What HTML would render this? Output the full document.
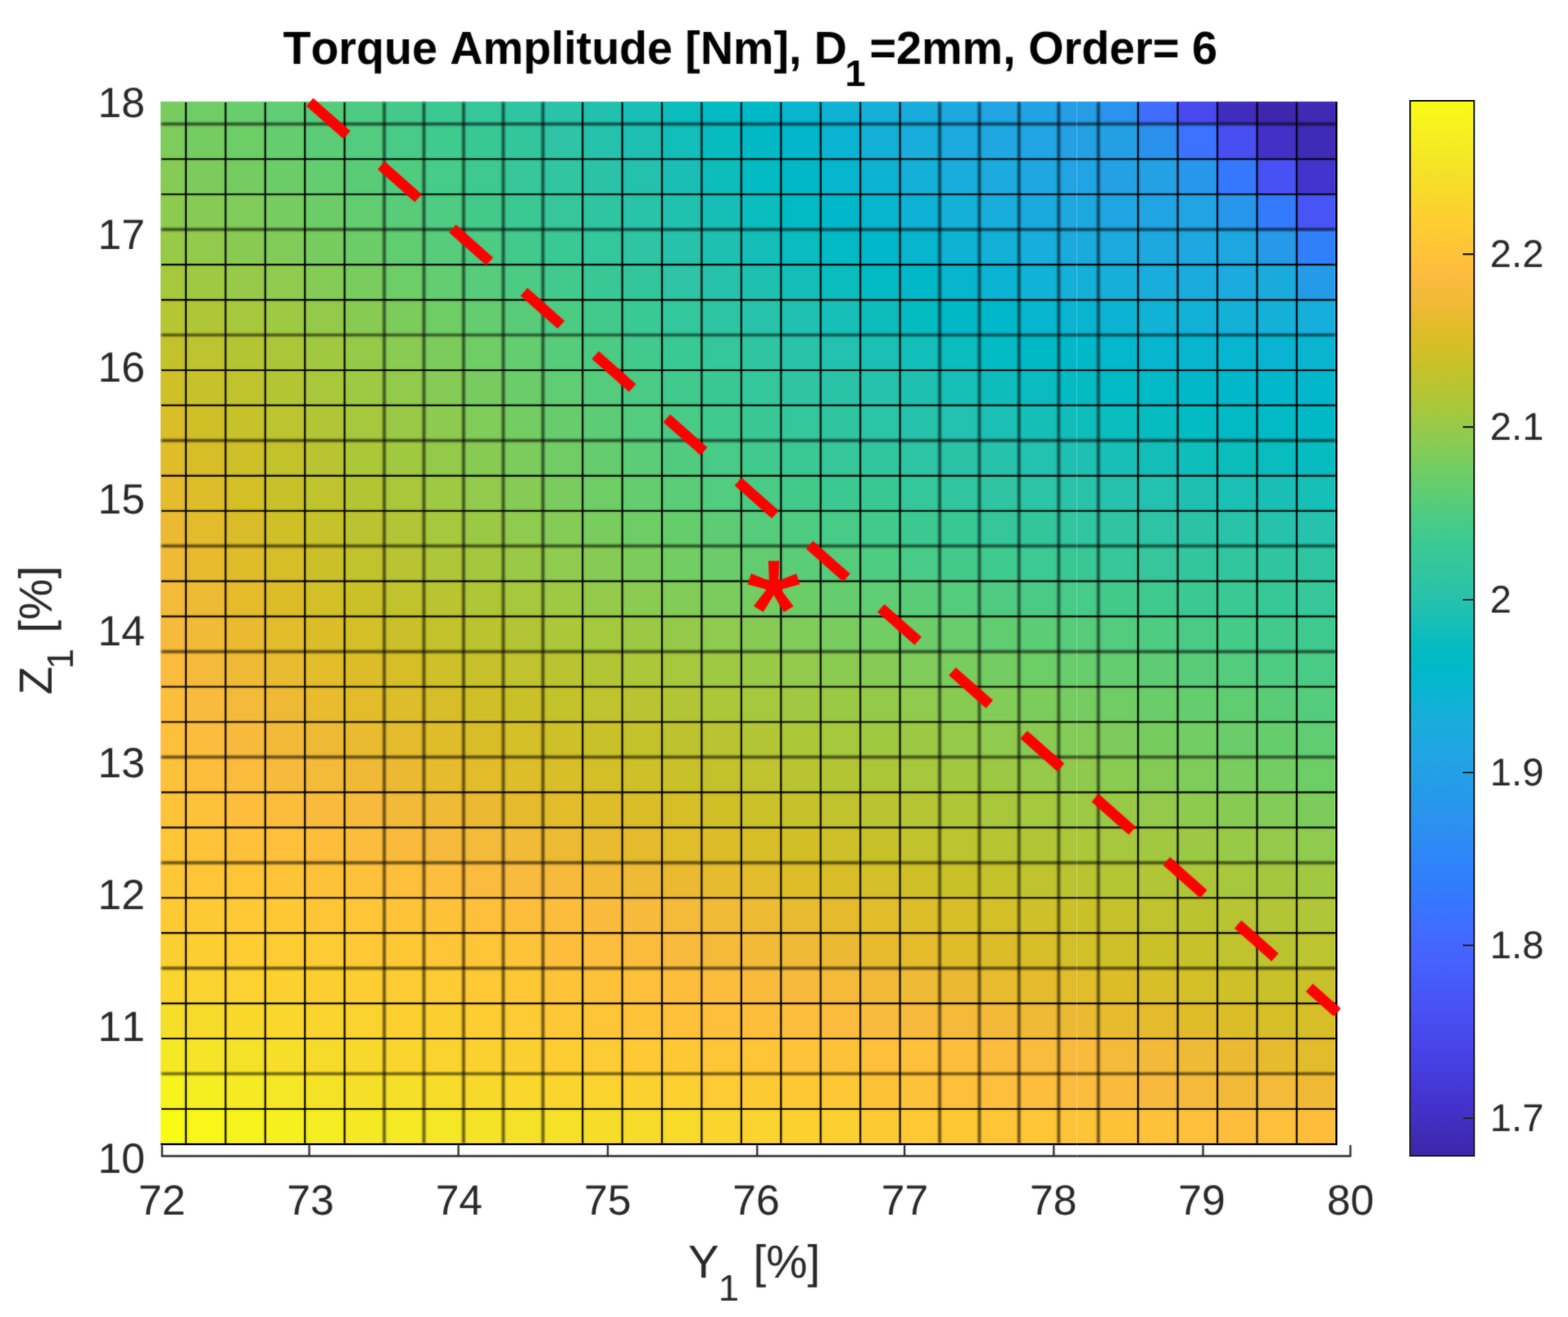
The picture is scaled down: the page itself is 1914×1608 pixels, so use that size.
<!DOCTYPE html>
<html lang="en"><head><meta charset="utf-8"><title>Torque Amplitude</title>
<style>html,body{margin:0;padding:0;background:#fff}body{width:1914px;height:1608px;overflow:hidden}svg{display:block}text{font-family:"Liberation Sans",Arial,Helvetica,sans-serif;font-kerning:none;text-rendering:geometricPrecision}</style></head><body>
<svg xmlns="http://www.w3.org/2000/svg" width="1914" height="1608" viewBox="0 0 1914 1608">
<rect width="1914" height="1608" fill="#fff"/>
<defs><linearGradient id="cb" x1="0" y1="0" x2="0" y2="1"><stop offset="0%" stop-color="#f9fb15"/><stop offset="1.59%" stop-color="#f7f51b"/><stop offset="3.17%" stop-color="#f6ef20"/><stop offset="4.76%" stop-color="#f5e924"/><stop offset="6.35%" stop-color="#f5e327"/><stop offset="7.94%" stop-color="#f7dc2a"/><stop offset="9.52%" stop-color="#fad62d"/><stop offset="11.11%" stop-color="#fccf30"/><stop offset="12.7%" stop-color="#fec934"/><stop offset="14.29%" stop-color="#fec338"/><stop offset="15.87%" stop-color="#febe3c"/><stop offset="17.46%" stop-color="#f8ba3d"/><stop offset="19.05%" stop-color="#f0ba36"/><stop offset="20.63%" stop-color="#e6bb2d"/><stop offset="22.22%" stop-color="#dcbd29"/><stop offset="23.81%" stop-color="#d1bf27"/><stop offset="25.4%" stop-color="#c5c22a"/><stop offset="26.98%" stop-color="#b9c431"/><stop offset="28.57%" stop-color="#abc739"/><stop offset="30.16%" stop-color="#9dc943"/><stop offset="31.75%" stop-color="#8fcb4e"/><stop offset="33.33%" stop-color="#81cc59"/><stop offset="34.92%" stop-color="#72cd64"/><stop offset="36.51%" stop-color="#64cd6f"/><stop offset="38.1%" stop-color="#57cc7a"/><stop offset="39.68%" stop-color="#4acb84"/><stop offset="41.27%" stop-color="#3fca8e"/><stop offset="42.86%" stop-color="#37c897"/><stop offset="44.44%" stop-color="#31c69f"/><stop offset="46.03%" stop-color="#2cc4a7"/><stop offset="47.62%" stop-color="#24c1ae"/><stop offset="49.21%" stop-color="#19bfb6"/><stop offset="50.79%" stop-color="#0bbdbd"/><stop offset="52.38%" stop-color="#02bac3"/><stop offset="53.97%" stop-color="#01b8ca"/><stop offset="55.56%" stop-color="#08b5d0"/><stop offset="57.14%" stop-color="#12b1d6"/><stop offset="58.73%" stop-color="#18addb"/><stop offset="60.32%" stop-color="#1ca9df"/><stop offset="61.9%" stop-color="#20a5e3"/><stop offset="63.49%" stop-color="#23a0e5"/><stop offset="65.08%" stop-color="#259be8"/><stop offset="66.67%" stop-color="#2797eb"/><stop offset="68.25%" stop-color="#2b91ef"/><stop offset="69.84%" stop-color="#2d8cf3"/><stop offset="71.43%" stop-color="#2e87f7"/><stop offset="73.02%" stop-color="#2f81fa"/><stop offset="74.6%" stop-color="#327cfc"/><stop offset="76.19%" stop-color="#3875fe"/><stop offset="77.78%" stop-color="#3e6fff"/><stop offset="79.37%" stop-color="#4269fe"/><stop offset="80.95%" stop-color="#4563fd"/><stop offset="82.54%" stop-color="#465efb"/><stop offset="84.13%" stop-color="#4758f8"/><stop offset="85.71%" stop-color="#4852f4"/><stop offset="87.3%" stop-color="#484df0"/><stop offset="88.89%" stop-color="#4747eb"/><stop offset="90.48%" stop-color="#4741e5"/><stop offset="92.06%" stop-color="#463cde"/><stop offset="93.65%" stop-color="#4537d5"/><stop offset="95.24%" stop-color="#4332cb"/><stop offset="96.83%" stop-color="#422ec0"/><stop offset="98.41%" stop-color="#402ab4"/><stop offset="100%" stop-color="#3e26a8"/></linearGradient><filter id="soft" x="0" y="0" width="1914" height="1608" filterUnits="userSpaceOnUse" color-interpolation-filters="sRGB"><feGaussianBlur stdDeviation="0.9" result="b"/><feComposite in="SourceGraphic" in2="b" operator="arithmetic" k1="0" k2="0.5" k3="0.5" k4="0"/></filter><filter id="soft2" x="0" y="0" width="1914" height="1608" filterUnits="userSpaceOnUse" color-interpolation-filters="sRGB"><feGaussianBlur stdDeviation="1.5"/></filter></defs>
<g filter="url(#soft)">
<g shape-rendering="crispEdges">
<rect x="196.2" y="124.3" width="31.3" height="27.6" fill="#78cc5f"/>
<rect x="226.3" y="124.3" width="49.63" height="27.6" fill="#70cd65"/>
<rect x="274.73" y="124.3" width="49.63" height="27.6" fill="#68cd6c"/>
<rect x="323.16" y="124.3" width="49.63" height="27.6" fill="#5fcd73"/>
<rect x="371.58" y="124.3" width="49.63" height="27.6" fill="#56cc7b"/>
<rect x="420.01" y="124.3" width="49.63" height="27.6" fill="#4ccb83"/>
<rect x="468.44" y="124.3" width="49.63" height="27.6" fill="#43ca8b"/>
<rect x="516.87" y="124.3" width="49.63" height="27.6" fill="#3bc993"/>
<rect x="565.29" y="124.3" width="49.63" height="27.6" fill="#35c79a"/>
<rect x="613.72" y="124.3" width="49.63" height="27.6" fill="#30c5a2"/>
<rect x="662.15" y="124.3" width="49.63" height="27.6" fill="#2ac3a9"/>
<rect x="710.58" y="124.3" width="49.63" height="27.6" fill="#22c1af"/>
<rect x="759" y="124.3" width="49.63" height="27.6" fill="#18bfb6"/>
<rect x="807.43" y="124.3" width="49.63" height="27.6" fill="#0bbdbd"/>
<rect x="855.86" y="124.3" width="49.63" height="27.6" fill="#02bbc3"/>
<rect x="904.29" y="124.3" width="49.63" height="27.6" fill="#01b8c9"/>
<rect x="952.71" y="124.3" width="49.63" height="27.6" fill="#07b5cf"/>
<rect x="1001.14" y="124.3" width="49.63" height="27.6" fill="#0fb2d5"/>
<rect x="1049.57" y="124.3" width="49.63" height="27.6" fill="#16afda"/>
<rect x="1098" y="124.3" width="49.63" height="27.6" fill="#1aabdd"/>
<rect x="1146.42" y="124.3" width="49.63" height="27.6" fill="#1ea8e0"/>
<rect x="1194.85" y="124.3" width="49.63" height="27.6" fill="#20a4e3"/>
<rect x="1243.28" y="124.3" width="49.63" height="27.6" fill="#22a1e4"/>
<rect x="1291.71" y="124.3" width="49.63" height="27.6" fill="#259de7"/>
<rect x="1340.13" y="124.3" width="49.63" height="27.6" fill="#2a93ed"/>
<rect x="1388.56" y="124.3" width="49.63" height="27.6" fill="#3f6eff"/>
<rect x="1436.99" y="124.3" width="49.63" height="27.6" fill="#484aee"/>
<rect x="1485.42" y="124.3" width="49.63" height="27.6" fill="#412dbc"/>
<rect x="1533.84" y="124.3" width="49.63" height="27.6" fill="#3e27ac"/>
<rect x="1582.27" y="124.3" width="49.03" height="27.6" fill="#402ab3"/>
<rect x="196.2" y="150.7" width="31.3" height="44.15" fill="#7dcc5c"/>
<rect x="226.3" y="150.7" width="49.63" height="44.15" fill="#75cc61"/>
<rect x="274.73" y="150.7" width="49.63" height="44.15" fill="#6dcd67"/>
<rect x="323.16" y="150.7" width="49.63" height="44.15" fill="#65cd6e"/>
<rect x="371.58" y="150.7" width="49.63" height="44.15" fill="#5ccc76"/>
<rect x="420.01" y="150.7" width="49.63" height="44.15" fill="#52cc7e"/>
<rect x="468.44" y="150.7" width="49.63" height="44.15" fill="#48cb86"/>
<rect x="516.87" y="150.7" width="49.63" height="44.15" fill="#3fca8e"/>
<rect x="565.29" y="150.7" width="49.63" height="44.15" fill="#38c896"/>
<rect x="613.72" y="150.7" width="49.63" height="44.15" fill="#33c69d"/>
<rect x="662.15" y="150.7" width="49.63" height="44.15" fill="#2ec4a5"/>
<rect x="710.58" y="150.7" width="49.63" height="44.15" fill="#27c2ac"/>
<rect x="759" y="150.7" width="49.63" height="44.15" fill="#1dc0b3"/>
<rect x="807.43" y="150.7" width="49.63" height="44.15" fill="#11beb9"/>
<rect x="855.86" y="150.7" width="49.63" height="44.15" fill="#06bcc0"/>
<rect x="904.29" y="150.7" width="49.63" height="44.15" fill="#01b9c6"/>
<rect x="952.71" y="150.7" width="49.63" height="44.15" fill="#03b6cc"/>
<rect x="1001.14" y="150.7" width="49.63" height="44.15" fill="#0bb4d2"/>
<rect x="1049.57" y="150.7" width="49.63" height="44.15" fill="#13b0d7"/>
<rect x="1098" y="150.7" width="49.63" height="44.15" fill="#18addb"/>
<rect x="1146.42" y="150.7" width="49.63" height="44.15" fill="#1caadf"/>
<rect x="1194.85" y="150.7" width="49.63" height="44.15" fill="#1ea7e1"/>
<rect x="1243.28" y="150.7" width="49.63" height="44.15" fill="#21a4e3"/>
<rect x="1291.71" y="150.7" width="49.63" height="44.15" fill="#23a1e4"/>
<rect x="1340.13" y="150.7" width="49.63" height="44.15" fill="#23a0e5"/>
<rect x="1388.56" y="150.7" width="49.63" height="44.15" fill="#2b91ef"/>
<rect x="1436.99" y="150.7" width="49.63" height="44.15" fill="#3b72ff"/>
<rect x="1485.42" y="150.7" width="49.63" height="44.15" fill="#484ff2"/>
<rect x="1533.84" y="150.7" width="49.63" height="44.15" fill="#4331c7"/>
<rect x="1582.27" y="150.7" width="49.03" height="44.15" fill="#402bb6"/>
<rect x="196.2" y="193.65" width="31.3" height="44.15" fill="#84cc56"/>
<rect x="226.3" y="193.65" width="49.63" height="44.15" fill="#7dcc5b"/>
<rect x="274.73" y="193.65" width="49.63" height="44.15" fill="#75cc61"/>
<rect x="323.16" y="193.65" width="49.63" height="44.15" fill="#6ccd68"/>
<rect x="371.58" y="193.65" width="49.63" height="44.15" fill="#63cd70"/>
<rect x="420.01" y="193.65" width="49.63" height="44.15" fill="#5acc78"/>
<rect x="468.44" y="193.65" width="49.63" height="44.15" fill="#50cc80"/>
<rect x="516.87" y="193.65" width="49.63" height="44.15" fill="#46cb88"/>
<rect x="565.29" y="193.65" width="49.63" height="44.15" fill="#3dc990"/>
<rect x="613.72" y="193.65" width="49.63" height="44.15" fill="#36c898"/>
<rect x="662.15" y="193.65" width="49.63" height="44.15" fill="#31c6a0"/>
<rect x="710.58" y="193.65" width="49.63" height="44.15" fill="#2bc3a7"/>
<rect x="759" y="193.65" width="49.63" height="44.15" fill="#24c1ae"/>
<rect x="807.43" y="193.65" width="49.63" height="44.15" fill="#19bfb5"/>
<rect x="855.86" y="193.65" width="49.63" height="44.15" fill="#0cbdbc"/>
<rect x="904.29" y="193.65" width="49.63" height="44.15" fill="#03bbc2"/>
<rect x="952.71" y="193.65" width="49.63" height="44.15" fill="#01b8c8"/>
<rect x="1001.14" y="193.65" width="49.63" height="44.15" fill="#06b6ce"/>
<rect x="1049.57" y="193.65" width="49.63" height="44.15" fill="#0db3d3"/>
<rect x="1098" y="193.65" width="49.63" height="44.15" fill="#14b0d8"/>
<rect x="1146.42" y="193.65" width="49.63" height="44.15" fill="#19addc"/>
<rect x="1194.85" y="193.65" width="49.63" height="44.15" fill="#1caadf"/>
<rect x="1243.28" y="193.65" width="49.63" height="44.15" fill="#1ea7e1"/>
<rect x="1291.71" y="193.65" width="49.63" height="44.15" fill="#20a4e3"/>
<rect x="1340.13" y="193.65" width="49.63" height="44.15" fill="#22a2e4"/>
<rect x="1388.56" y="193.65" width="49.63" height="44.15" fill="#23a1e4"/>
<rect x="1436.99" y="193.65" width="49.63" height="44.15" fill="#2797eb"/>
<rect x="1485.42" y="193.65" width="49.63" height="44.15" fill="#3678fd"/>
<rect x="1533.84" y="193.65" width="49.63" height="44.15" fill="#4852f4"/>
<rect x="1582.27" y="193.65" width="49.03" height="44.15" fill="#4434ce"/>
<rect x="196.2" y="236.6" width="31.3" height="44.15" fill="#8dcb4f"/>
<rect x="226.3" y="236.6" width="49.63" height="44.15" fill="#87cb54"/>
<rect x="274.73" y="236.6" width="49.63" height="44.15" fill="#7fcc5a"/>
<rect x="323.16" y="236.6" width="49.63" height="44.15" fill="#76cc61"/>
<rect x="371.58" y="236.6" width="49.63" height="44.15" fill="#6ccd68"/>
<rect x="420.01" y="236.6" width="49.63" height="44.15" fill="#62cd70"/>
<rect x="468.44" y="236.6" width="49.63" height="44.15" fill="#58cc79"/>
<rect x="516.87" y="236.6" width="49.63" height="44.15" fill="#4dcc82"/>
<rect x="565.29" y="236.6" width="49.63" height="44.15" fill="#43ca8a"/>
<rect x="613.72" y="236.6" width="49.63" height="44.15" fill="#3bc993"/>
<rect x="662.15" y="236.6" width="49.63" height="44.15" fill="#35c79b"/>
<rect x="710.58" y="236.6" width="49.63" height="44.15" fill="#2fc5a2"/>
<rect x="759" y="236.6" width="49.63" height="44.15" fill="#29c3aa"/>
<rect x="807.43" y="236.6" width="49.63" height="44.15" fill="#21c1b0"/>
<rect x="855.86" y="236.6" width="49.63" height="44.15" fill="#15bfb7"/>
<rect x="904.29" y="236.6" width="49.63" height="44.15" fill="#09bdbe"/>
<rect x="952.71" y="236.6" width="49.63" height="44.15" fill="#02bac4"/>
<rect x="1001.14" y="236.6" width="49.63" height="44.15" fill="#01b8ca"/>
<rect x="1049.57" y="236.6" width="49.63" height="44.15" fill="#07b5cf"/>
<rect x="1098" y="236.6" width="49.63" height="44.15" fill="#0eb2d4"/>
<rect x="1146.42" y="236.6" width="49.63" height="44.15" fill="#14b0d8"/>
<rect x="1194.85" y="236.6" width="49.63" height="44.15" fill="#19addc"/>
<rect x="1243.28" y="236.6" width="49.63" height="44.15" fill="#1baade"/>
<rect x="1291.71" y="236.6" width="49.63" height="44.15" fill="#1ea8e0"/>
<rect x="1340.13" y="236.6" width="49.63" height="44.15" fill="#1fa6e2"/>
<rect x="1388.56" y="236.6" width="49.63" height="44.15" fill="#20a4e3"/>
<rect x="1436.99" y="236.6" width="49.63" height="44.15" fill="#20a4e3"/>
<rect x="1485.42" y="236.6" width="49.63" height="44.15" fill="#2797eb"/>
<rect x="1533.84" y="236.6" width="49.63" height="44.15" fill="#337afd"/>
<rect x="1582.27" y="236.6" width="49.03" height="44.15" fill="#4755f6"/>
<rect x="196.2" y="279.56" width="31.3" height="44.15" fill="#97ca47"/>
<rect x="226.3" y="279.56" width="49.63" height="44.15" fill="#91ca4c"/>
<rect x="274.73" y="279.56" width="49.63" height="44.15" fill="#89cb52"/>
<rect x="323.16" y="279.56" width="49.63" height="44.15" fill="#81cc59"/>
<rect x="371.58" y="279.56" width="49.63" height="44.15" fill="#77cc60"/>
<rect x="420.01" y="279.56" width="49.63" height="44.15" fill="#6ccd68"/>
<rect x="468.44" y="279.56" width="49.63" height="44.15" fill="#61cd71"/>
<rect x="516.87" y="279.56" width="49.63" height="44.15" fill="#57cc7a"/>
<rect x="565.29" y="279.56" width="49.63" height="44.15" fill="#4ccb83"/>
<rect x="613.72" y="279.56" width="49.63" height="44.15" fill="#41ca8c"/>
<rect x="662.15" y="279.56" width="49.63" height="44.15" fill="#39c994"/>
<rect x="710.58" y="279.56" width="49.63" height="44.15" fill="#33c79d"/>
<rect x="759" y="279.56" width="49.63" height="44.15" fill="#2ec4a4"/>
<rect x="807.43" y="279.56" width="49.63" height="44.15" fill="#27c2ab"/>
<rect x="855.86" y="279.56" width="49.63" height="44.15" fill="#1ec0b2"/>
<rect x="904.29" y="279.56" width="49.63" height="44.15" fill="#13beb9"/>
<rect x="952.71" y="279.56" width="49.63" height="44.15" fill="#08bcbf"/>
<rect x="1001.14" y="279.56" width="49.63" height="44.15" fill="#02bac5"/>
<rect x="1049.57" y="279.56" width="49.63" height="44.15" fill="#01b8ca"/>
<rect x="1098" y="279.56" width="49.63" height="44.15" fill="#07b5cf"/>
<rect x="1146.42" y="279.56" width="49.63" height="44.15" fill="#0eb3d4"/>
<rect x="1194.85" y="279.56" width="49.63" height="44.15" fill="#13b0d8"/>
<rect x="1243.28" y="279.56" width="49.63" height="44.15" fill="#18aedb"/>
<rect x="1291.71" y="279.56" width="49.63" height="44.15" fill="#1aabdd"/>
<rect x="1340.13" y="279.56" width="49.63" height="44.15" fill="#1caadf"/>
<rect x="1388.56" y="279.56" width="49.63" height="44.15" fill="#1da8e0"/>
<rect x="1436.99" y="279.56" width="49.63" height="44.15" fill="#1ea7e1"/>
<rect x="1485.42" y="279.56" width="49.63" height="44.15" fill="#1ea6e1"/>
<rect x="1533.84" y="279.56" width="49.63" height="44.15" fill="#2699e9"/>
<rect x="1582.27" y="279.56" width="49.03" height="44.15" fill="#3080fb"/>
<rect x="196.2" y="322.51" width="31.3" height="44.15" fill="#a5c83d"/>
<rect x="226.3" y="322.51" width="49.63" height="44.15" fill="#9fc942"/>
<rect x="274.73" y="322.51" width="49.63" height="44.15" fill="#97ca48"/>
<rect x="323.16" y="322.51" width="49.63" height="44.15" fill="#8ecb4e"/>
<rect x="371.58" y="322.51" width="49.63" height="44.15" fill="#84cc56"/>
<rect x="420.01" y="322.51" width="49.63" height="44.15" fill="#79cc5e"/>
<rect x="468.44" y="322.51" width="49.63" height="44.15" fill="#6dcd67"/>
<rect x="516.87" y="322.51" width="49.63" height="44.15" fill="#62cd71"/>
<rect x="565.29" y="322.51" width="49.63" height="44.15" fill="#57cc7a"/>
<rect x="613.72" y="322.51" width="49.63" height="44.15" fill="#4bcb83"/>
<rect x="662.15" y="322.51" width="49.63" height="44.15" fill="#41ca8c"/>
<rect x="710.58" y="322.51" width="49.63" height="44.15" fill="#39c895"/>
<rect x="759" y="322.51" width="49.63" height="44.15" fill="#33c69d"/>
<rect x="807.43" y="322.51" width="49.63" height="44.15" fill="#2ec4a5"/>
<rect x="855.86" y="322.51" width="49.63" height="44.15" fill="#27c2ac"/>
<rect x="904.29" y="322.51" width="49.63" height="44.15" fill="#1ec0b2"/>
<rect x="952.71" y="322.51" width="49.63" height="44.15" fill="#13beb8"/>
<rect x="1001.14" y="322.51" width="49.63" height="44.15" fill="#09bcbe"/>
<rect x="1049.57" y="322.51" width="49.63" height="44.15" fill="#02bac4"/>
<rect x="1098" y="322.51" width="49.63" height="44.15" fill="#01b8c9"/>
<rect x="1146.42" y="322.51" width="49.63" height="44.15" fill="#05b6ce"/>
<rect x="1194.85" y="322.51" width="49.63" height="44.15" fill="#0ab4d2"/>
<rect x="1243.28" y="322.51" width="49.63" height="44.15" fill="#10b2d5"/>
<rect x="1291.71" y="322.51" width="49.63" height="44.15" fill="#14b0d8"/>
<rect x="1340.13" y="322.51" width="49.63" height="44.15" fill="#17aeda"/>
<rect x="1388.56" y="322.51" width="49.63" height="44.15" fill="#19addc"/>
<rect x="1436.99" y="322.51" width="49.63" height="44.15" fill="#1aacdd"/>
<rect x="1485.42" y="322.51" width="49.63" height="44.15" fill="#1babde"/>
<rect x="1533.84" y="322.51" width="49.63" height="44.15" fill="#1aabdd"/>
<rect x="1582.27" y="322.51" width="49.03" height="44.15" fill="#259be8"/>
<rect x="196.2" y="365.46" width="31.3" height="44.15" fill="#b6c532"/>
<rect x="226.3" y="365.46" width="49.63" height="44.15" fill="#afc637"/>
<rect x="274.73" y="365.46" width="49.63" height="44.15" fill="#a7c73c"/>
<rect x="323.16" y="365.46" width="49.63" height="44.15" fill="#9ec943"/>
<rect x="371.58" y="365.46" width="49.63" height="44.15" fill="#93ca4a"/>
<rect x="420.01" y="365.46" width="49.63" height="44.15" fill="#88cb53"/>
<rect x="468.44" y="365.46" width="49.63" height="44.15" fill="#7ccc5c"/>
<rect x="516.87" y="365.46" width="49.63" height="44.15" fill="#6fcd65"/>
<rect x="565.29" y="365.46" width="49.63" height="44.15" fill="#63cd6f"/>
<rect x="613.72" y="365.46" width="49.63" height="44.15" fill="#58cc79"/>
<rect x="662.15" y="365.46" width="49.63" height="44.15" fill="#4ccb83"/>
<rect x="710.58" y="365.46" width="49.63" height="44.15" fill="#41ca8c"/>
<rect x="759" y="365.46" width="49.63" height="44.15" fill="#39c995"/>
<rect x="807.43" y="365.46" width="49.63" height="44.15" fill="#33c79d"/>
<rect x="855.86" y="365.46" width="49.63" height="44.15" fill="#2ec5a4"/>
<rect x="904.29" y="365.46" width="49.63" height="44.15" fill="#28c3ab"/>
<rect x="952.71" y="365.46" width="49.63" height="44.15" fill="#20c1b1"/>
<rect x="1001.14" y="365.46" width="49.63" height="44.15" fill="#16bfb7"/>
<rect x="1049.57" y="365.46" width="49.63" height="44.15" fill="#0cbdbc"/>
<rect x="1098" y="365.46" width="49.63" height="44.15" fill="#04bbc1"/>
<rect x="1146.42" y="365.46" width="49.63" height="44.15" fill="#01b9c6"/>
<rect x="1194.85" y="365.46" width="49.63" height="44.15" fill="#01b8ca"/>
<rect x="1243.28" y="365.46" width="49.63" height="44.15" fill="#05b6ce"/>
<rect x="1291.71" y="365.46" width="49.63" height="44.15" fill="#09b4d1"/>
<rect x="1340.13" y="365.46" width="49.63" height="44.15" fill="#0db3d3"/>
<rect x="1388.56" y="365.46" width="49.63" height="44.15" fill="#10b2d5"/>
<rect x="1436.99" y="365.46" width="49.63" height="44.15" fill="#12b1d7"/>
<rect x="1485.42" y="365.46" width="49.63" height="44.15" fill="#13b0d7"/>
<rect x="1533.84" y="365.46" width="49.63" height="44.15" fill="#14b0d8"/>
<rect x="1582.27" y="365.46" width="49.03" height="44.15" fill="#16aeda"/>
<rect x="196.2" y="408.41" width="31.3" height="44.15" fill="#c4c22b"/>
<rect x="226.3" y="408.41" width="49.63" height="44.15" fill="#bdc42f"/>
<rect x="274.73" y="408.41" width="49.63" height="44.15" fill="#b4c534"/>
<rect x="323.16" y="408.41" width="49.63" height="44.15" fill="#abc739"/>
<rect x="371.58" y="408.41" width="49.63" height="44.15" fill="#a0c841"/>
<rect x="420.01" y="408.41" width="49.63" height="44.15" fill="#95ca49"/>
<rect x="468.44" y="408.41" width="49.63" height="44.15" fill="#89cb53"/>
<rect x="516.87" y="408.41" width="49.63" height="44.15" fill="#7ccc5c"/>
<rect x="565.29" y="408.41" width="49.63" height="44.15" fill="#6fcd66"/>
<rect x="613.72" y="408.41" width="49.63" height="44.15" fill="#63cd70"/>
<rect x="662.15" y="408.41" width="49.63" height="44.15" fill="#57cc7a"/>
<rect x="710.58" y="408.41" width="49.63" height="44.15" fill="#4bcb83"/>
<rect x="759" y="408.41" width="49.63" height="44.15" fill="#41ca8c"/>
<rect x="807.43" y="408.41" width="49.63" height="44.15" fill="#39c994"/>
<rect x="855.86" y="408.41" width="49.63" height="44.15" fill="#34c79c"/>
<rect x="904.29" y="408.41" width="49.63" height="44.15" fill="#2fc5a3"/>
<rect x="952.71" y="408.41" width="49.63" height="44.15" fill="#29c3a9"/>
<rect x="1001.14" y="408.41" width="49.63" height="44.15" fill="#23c1af"/>
<rect x="1049.57" y="408.41" width="49.63" height="44.15" fill="#1ac0b5"/>
<rect x="1098" y="408.41" width="49.63" height="44.15" fill="#11beba"/>
<rect x="1146.42" y="408.41" width="49.63" height="44.15" fill="#09bcbe"/>
<rect x="1194.85" y="408.41" width="49.63" height="44.15" fill="#03bbc2"/>
<rect x="1243.28" y="408.41" width="49.63" height="44.15" fill="#01b9c6"/>
<rect x="1291.71" y="408.41" width="49.63" height="44.15" fill="#01b8c9"/>
<rect x="1340.13" y="408.41" width="49.63" height="44.15" fill="#03b7cc"/>
<rect x="1388.56" y="408.41" width="49.63" height="44.15" fill="#05b6ce"/>
<rect x="1436.99" y="408.41" width="49.63" height="44.15" fill="#07b5cf"/>
<rect x="1485.42" y="408.41" width="49.63" height="44.15" fill="#08b5d0"/>
<rect x="1533.84" y="408.41" width="49.63" height="44.15" fill="#08b4d1"/>
<rect x="1582.27" y="408.41" width="49.03" height="44.15" fill="#08b4d0"/>
<rect x="196.2" y="451.36" width="31.3" height="44.15" fill="#cfc028"/>
<rect x="226.3" y="451.36" width="49.63" height="44.15" fill="#c7c12a"/>
<rect x="274.73" y="451.36" width="49.63" height="44.15" fill="#bec32e"/>
<rect x="323.16" y="451.36" width="49.63" height="44.15" fill="#b4c534"/>
<rect x="371.58" y="451.36" width="49.63" height="44.15" fill="#a9c73a"/>
<rect x="420.01" y="451.36" width="49.63" height="44.15" fill="#9ec942"/>
<rect x="468.44" y="451.36" width="49.63" height="44.15" fill="#92ca4c"/>
<rect x="516.87" y="451.36" width="49.63" height="44.15" fill="#85cb55"/>
<rect x="565.29" y="451.36" width="49.63" height="44.15" fill="#78cc5f"/>
<rect x="613.72" y="451.36" width="49.63" height="44.15" fill="#6bcd69"/>
<rect x="662.15" y="451.36" width="49.63" height="44.15" fill="#5fcd73"/>
<rect x="710.58" y="451.36" width="49.63" height="44.15" fill="#54cc7c"/>
<rect x="759" y="451.36" width="49.63" height="44.15" fill="#49cb85"/>
<rect x="807.43" y="451.36" width="49.63" height="44.15" fill="#40ca8d"/>
<rect x="855.86" y="451.36" width="49.63" height="44.15" fill="#39c895"/>
<rect x="904.29" y="451.36" width="49.63" height="44.15" fill="#34c79c"/>
<rect x="952.71" y="451.36" width="49.63" height="44.15" fill="#2fc5a2"/>
<rect x="1001.14" y="451.36" width="49.63" height="44.15" fill="#2bc3a8"/>
<rect x="1049.57" y="451.36" width="49.63" height="44.15" fill="#25c2ae"/>
<rect x="1098" y="451.36" width="49.63" height="44.15" fill="#1ec0b2"/>
<rect x="1146.42" y="451.36" width="49.63" height="44.15" fill="#16bfb7"/>
<rect x="1194.85" y="451.36" width="49.63" height="44.15" fill="#0ebdbb"/>
<rect x="1243.28" y="451.36" width="49.63" height="44.15" fill="#08bcbf"/>
<rect x="1291.71" y="451.36" width="49.63" height="44.15" fill="#04bbc2"/>
<rect x="1340.13" y="451.36" width="49.63" height="44.15" fill="#02bac5"/>
<rect x="1388.56" y="451.36" width="49.63" height="44.15" fill="#01b9c7"/>
<rect x="1436.99" y="451.36" width="49.63" height="44.15" fill="#01b8c9"/>
<rect x="1485.42" y="451.36" width="49.63" height="44.15" fill="#01b8ca"/>
<rect x="1533.84" y="451.36" width="49.63" height="44.15" fill="#02b7cb"/>
<rect x="1582.27" y="451.36" width="49.03" height="44.15" fill="#02b7cb"/>
<rect x="196.2" y="494.31" width="31.3" height="44.15" fill="#d9be28"/>
<rect x="226.3" y="494.31" width="49.63" height="44.15" fill="#d0bf27"/>
<rect x="274.73" y="494.31" width="49.63" height="44.15" fill="#c6c22a"/>
<rect x="323.16" y="494.31" width="49.63" height="44.15" fill="#bcc42f"/>
<rect x="371.58" y="494.31" width="49.63" height="44.15" fill="#b1c636"/>
<rect x="420.01" y="494.31" width="49.63" height="44.15" fill="#a5c83d"/>
<rect x="468.44" y="494.31" width="49.63" height="44.15" fill="#99c946"/>
<rect x="516.87" y="494.31" width="49.63" height="44.15" fill="#8dcb50"/>
<rect x="565.29" y="494.31" width="49.63" height="44.15" fill="#80cc59"/>
<rect x="613.72" y="494.31" width="49.63" height="44.15" fill="#73cd62"/>
<rect x="662.15" y="494.31" width="49.63" height="44.15" fill="#67cd6c"/>
<rect x="710.58" y="494.31" width="49.63" height="44.15" fill="#5ccc76"/>
<rect x="759" y="494.31" width="49.63" height="44.15" fill="#52cc7e"/>
<rect x="807.43" y="494.31" width="49.63" height="44.15" fill="#48cb86"/>
<rect x="855.86" y="494.31" width="49.63" height="44.15" fill="#3fca8e"/>
<rect x="904.29" y="494.31" width="49.63" height="44.15" fill="#39c895"/>
<rect x="952.71" y="494.31" width="49.63" height="44.15" fill="#34c79b"/>
<rect x="1001.14" y="494.31" width="49.63" height="44.15" fill="#30c5a1"/>
<rect x="1049.57" y="494.31" width="49.63" height="44.15" fill="#2cc4a7"/>
<rect x="1098" y="494.31" width="49.63" height="44.15" fill="#27c2ab"/>
<rect x="1146.42" y="494.31" width="49.63" height="44.15" fill="#22c1b0"/>
<rect x="1194.85" y="494.31" width="49.63" height="44.15" fill="#1bc0b4"/>
<rect x="1243.28" y="494.31" width="49.63" height="44.15" fill="#15bfb7"/>
<rect x="1291.71" y="494.31" width="49.63" height="44.15" fill="#0fbebb"/>
<rect x="1340.13" y="494.31" width="49.63" height="44.15" fill="#0abdbe"/>
<rect x="1388.56" y="494.31" width="49.63" height="44.15" fill="#06bcc0"/>
<rect x="1436.99" y="494.31" width="49.63" height="44.15" fill="#03bbc2"/>
<rect x="1485.42" y="494.31" width="49.63" height="44.15" fill="#02bac4"/>
<rect x="1533.84" y="494.31" width="49.63" height="44.15" fill="#02bac5"/>
<rect x="1582.27" y="494.31" width="49.03" height="44.15" fill="#01b9c6"/>
<rect x="196.2" y="537.27" width="31.3" height="44.15" fill="#e0bc2b"/>
<rect x="226.3" y="537.27" width="49.63" height="44.15" fill="#d7be28"/>
<rect x="274.73" y="537.27" width="49.63" height="44.15" fill="#cdc028"/>
<rect x="323.16" y="537.27" width="49.63" height="44.15" fill="#c3c22b"/>
<rect x="371.58" y="537.27" width="49.63" height="44.15" fill="#b8c431"/>
<rect x="420.01" y="537.27" width="49.63" height="44.15" fill="#acc738"/>
<rect x="468.44" y="537.27" width="49.63" height="44.15" fill="#a0c840"/>
<rect x="516.87" y="537.27" width="49.63" height="44.15" fill="#94ca4a"/>
<rect x="565.29" y="537.27" width="49.63" height="44.15" fill="#88cb53"/>
<rect x="613.72" y="537.27" width="49.63" height="44.15" fill="#7ccc5c"/>
<rect x="662.15" y="537.27" width="49.63" height="44.15" fill="#70cd65"/>
<rect x="710.58" y="537.27" width="49.63" height="44.15" fill="#65cd6e"/>
<rect x="759" y="537.27" width="49.63" height="44.15" fill="#5bcc77"/>
<rect x="807.43" y="537.27" width="49.63" height="44.15" fill="#51cc7f"/>
<rect x="855.86" y="537.27" width="49.63" height="44.15" fill="#48cb86"/>
<rect x="904.29" y="537.27" width="49.63" height="44.15" fill="#40ca8d"/>
<rect x="952.71" y="537.27" width="49.63" height="44.15" fill="#3ac994"/>
<rect x="1001.14" y="537.27" width="49.63" height="44.15" fill="#35c79a"/>
<rect x="1049.57" y="537.27" width="49.63" height="44.15" fill="#32c69f"/>
<rect x="1098" y="537.27" width="49.63" height="44.15" fill="#2ec5a4"/>
<rect x="1146.42" y="537.27" width="49.63" height="44.15" fill="#2bc3a8"/>
<rect x="1194.85" y="537.27" width="49.63" height="44.15" fill="#27c2ac"/>
<rect x="1243.28" y="537.27" width="49.63" height="44.15" fill="#22c1b0"/>
<rect x="1291.71" y="537.27" width="49.63" height="44.15" fill="#1dc0b3"/>
<rect x="1340.13" y="537.27" width="49.63" height="44.15" fill="#18bfb6"/>
<rect x="1388.56" y="537.27" width="49.63" height="44.15" fill="#13beb8"/>
<rect x="1436.99" y="537.27" width="49.63" height="44.15" fill="#0ebebb"/>
<rect x="1485.42" y="537.27" width="49.63" height="44.15" fill="#0bbdbd"/>
<rect x="1533.84" y="537.27" width="49.63" height="44.15" fill="#09bcbe"/>
<rect x="1582.27" y="537.27" width="49.03" height="44.15" fill="#07bcc0"/>
<rect x="196.2" y="580.22" width="31.3" height="44.15" fill="#e6bb2d"/>
<rect x="226.3" y="580.22" width="49.63" height="44.15" fill="#ddbd29"/>
<rect x="274.73" y="580.22" width="49.63" height="44.15" fill="#d4bf27"/>
<rect x="323.16" y="580.22" width="49.63" height="44.15" fill="#c9c129"/>
<rect x="371.58" y="580.22" width="49.63" height="44.15" fill="#bfc32e"/>
<rect x="420.01" y="580.22" width="49.63" height="44.15" fill="#b4c534"/>
<rect x="468.44" y="580.22" width="49.63" height="44.15" fill="#a8c73b"/>
<rect x="516.87" y="580.22" width="49.63" height="44.15" fill="#9dc943"/>
<rect x="565.29" y="580.22" width="49.63" height="44.15" fill="#91ca4c"/>
<rect x="613.72" y="580.22" width="49.63" height="44.15" fill="#85cb55"/>
<rect x="662.15" y="580.22" width="49.63" height="44.15" fill="#7acc5e"/>
<rect x="710.58" y="580.22" width="49.63" height="44.15" fill="#6ecd66"/>
<rect x="759" y="580.22" width="49.63" height="44.15" fill="#64cd6f"/>
<rect x="807.43" y="580.22" width="49.63" height="44.15" fill="#5bcc77"/>
<rect x="855.86" y="580.22" width="49.63" height="44.15" fill="#52cc7e"/>
<rect x="904.29" y="580.22" width="49.63" height="44.15" fill="#49cb85"/>
<rect x="952.71" y="580.22" width="49.63" height="44.15" fill="#42ca8b"/>
<rect x="1001.14" y="580.22" width="49.63" height="44.15" fill="#3cc991"/>
<rect x="1049.57" y="580.22" width="49.63" height="44.15" fill="#38c896"/>
<rect x="1098" y="580.22" width="49.63" height="44.15" fill="#34c79b"/>
<rect x="1146.42" y="580.22" width="49.63" height="44.15" fill="#31c69f"/>
<rect x="1194.85" y="580.22" width="49.63" height="44.15" fill="#2fc5a3"/>
<rect x="1243.28" y="580.22" width="49.63" height="44.15" fill="#2cc4a7"/>
<rect x="1291.71" y="580.22" width="49.63" height="44.15" fill="#29c3aa"/>
<rect x="1340.13" y="580.22" width="49.63" height="44.15" fill="#26c2ad"/>
<rect x="1388.56" y="580.22" width="49.63" height="44.15" fill="#22c1b0"/>
<rect x="1436.99" y="580.22" width="49.63" height="44.15" fill="#1fc0b2"/>
<rect x="1485.42" y="580.22" width="49.63" height="44.15" fill="#1bc0b4"/>
<rect x="1533.84" y="580.22" width="49.63" height="44.15" fill="#19bfb5"/>
<rect x="1582.27" y="580.22" width="49.03" height="44.15" fill="#16bfb7"/>
<rect x="196.2" y="623.17" width="31.3" height="44.15" fill="#ebba32"/>
<rect x="226.3" y="623.17" width="49.63" height="44.15" fill="#e3bc2c"/>
<rect x="274.73" y="623.17" width="49.63" height="44.15" fill="#d9bd28"/>
<rect x="323.16" y="623.17" width="49.63" height="44.15" fill="#cfc028"/>
<rect x="371.58" y="623.17" width="49.63" height="44.15" fill="#c5c22a"/>
<rect x="420.01" y="623.17" width="49.63" height="44.15" fill="#bbc430"/>
<rect x="468.44" y="623.17" width="49.63" height="44.15" fill="#b0c636"/>
<rect x="516.87" y="623.17" width="49.63" height="44.15" fill="#a5c83d"/>
<rect x="565.29" y="623.17" width="49.63" height="44.15" fill="#9ac946"/>
<rect x="613.72" y="623.17" width="49.63" height="44.15" fill="#8fcb4e"/>
<rect x="662.15" y="623.17" width="49.63" height="44.15" fill="#84cc56"/>
<rect x="710.58" y="623.17" width="49.63" height="44.15" fill="#79cc5e"/>
<rect x="759" y="623.17" width="49.63" height="44.15" fill="#6fcd66"/>
<rect x="807.43" y="623.17" width="49.63" height="44.15" fill="#66cd6d"/>
<rect x="855.86" y="623.17" width="49.63" height="44.15" fill="#5dcc75"/>
<rect x="904.29" y="623.17" width="49.63" height="44.15" fill="#55cc7c"/>
<rect x="952.71" y="623.17" width="49.63" height="44.15" fill="#4ecc82"/>
<rect x="1001.14" y="623.17" width="49.63" height="44.15" fill="#47cb87"/>
<rect x="1049.57" y="623.17" width="49.63" height="44.15" fill="#41ca8c"/>
<rect x="1098" y="623.17" width="49.63" height="44.15" fill="#3cc991"/>
<rect x="1146.42" y="623.17" width="49.63" height="44.15" fill="#38c896"/>
<rect x="1194.85" y="623.17" width="49.63" height="44.15" fill="#35c79a"/>
<rect x="1243.28" y="623.17" width="49.63" height="44.15" fill="#33c69d"/>
<rect x="1291.71" y="623.17" width="49.63" height="44.15" fill="#31c6a0"/>
<rect x="1340.13" y="623.17" width="49.63" height="44.15" fill="#2fc5a3"/>
<rect x="1388.56" y="623.17" width="49.63" height="44.15" fill="#2dc4a6"/>
<rect x="1436.99" y="623.17" width="49.63" height="44.15" fill="#2bc3a8"/>
<rect x="1485.42" y="623.17" width="49.63" height="44.15" fill="#29c3aa"/>
<rect x="1533.84" y="623.17" width="49.63" height="44.15" fill="#27c2ab"/>
<rect x="1582.27" y="623.17" width="49.03" height="44.15" fill="#26c2ad"/>
<rect x="196.2" y="666.12" width="31.3" height="44.15" fill="#f0ba36"/>
<rect x="226.3" y="666.12" width="49.63" height="44.15" fill="#e8bb2e"/>
<rect x="274.73" y="666.12" width="49.63" height="44.15" fill="#dfbc2a"/>
<rect x="323.16" y="666.12" width="49.63" height="44.15" fill="#d5be28"/>
<rect x="371.58" y="666.12" width="49.63" height="44.15" fill="#ccc028"/>
<rect x="420.01" y="666.12" width="49.63" height="44.15" fill="#c2c22c"/>
<rect x="468.44" y="666.12" width="49.63" height="44.15" fill="#b8c431"/>
<rect x="516.87" y="666.12" width="49.63" height="44.15" fill="#aec637"/>
<rect x="565.29" y="666.12" width="49.63" height="44.15" fill="#a3c83e"/>
<rect x="613.72" y="666.12" width="49.63" height="44.15" fill="#99c946"/>
<rect x="662.15" y="666.12" width="49.63" height="44.15" fill="#8fcb4e"/>
<rect x="710.58" y="666.12" width="49.63" height="44.15" fill="#85cb55"/>
<rect x="759" y="666.12" width="49.63" height="44.15" fill="#7ccc5c"/>
<rect x="807.43" y="666.12" width="49.63" height="44.15" fill="#72cd63"/>
<rect x="855.86" y="666.12" width="49.63" height="44.15" fill="#6acd6a"/>
<rect x="904.29" y="666.12" width="49.63" height="44.15" fill="#62cd70"/>
<rect x="952.71" y="666.12" width="49.63" height="44.15" fill="#5bcc77"/>
<rect x="1001.14" y="666.12" width="49.63" height="44.15" fill="#54cc7c"/>
<rect x="1049.57" y="666.12" width="49.63" height="44.15" fill="#4ecc81"/>
<rect x="1098" y="666.12" width="49.63" height="44.15" fill="#48cb86"/>
<rect x="1146.42" y="666.12" width="49.63" height="44.15" fill="#43ca8a"/>
<rect x="1194.85" y="666.12" width="49.63" height="44.15" fill="#3fca8e"/>
<rect x="1243.28" y="666.12" width="49.63" height="44.15" fill="#3cc992"/>
<rect x="1291.71" y="666.12" width="49.63" height="44.15" fill="#39c895"/>
<rect x="1340.13" y="666.12" width="49.63" height="44.15" fill="#36c898"/>
<rect x="1388.56" y="666.12" width="49.63" height="44.15" fill="#35c79b"/>
<rect x="1436.99" y="666.12" width="49.63" height="44.15" fill="#33c69d"/>
<rect x="1485.42" y="666.12" width="49.63" height="44.15" fill="#32c69f"/>
<rect x="1533.84" y="666.12" width="49.63" height="44.15" fill="#30c5a1"/>
<rect x="1582.27" y="666.12" width="49.03" height="44.15" fill="#2fc5a2"/>
<rect x="196.2" y="709.07" width="31.3" height="44.15" fill="#f4ba3a"/>
<rect x="226.3" y="709.07" width="49.63" height="44.15" fill="#edba33"/>
<rect x="274.73" y="709.07" width="49.63" height="44.15" fill="#e5bb2c"/>
<rect x="323.16" y="709.07" width="49.63" height="44.15" fill="#dcbd29"/>
<rect x="371.58" y="709.07" width="49.63" height="44.15" fill="#d3bf27"/>
<rect x="420.01" y="709.07" width="49.63" height="44.15" fill="#cac129"/>
<rect x="468.44" y="709.07" width="49.63" height="44.15" fill="#c1c32c"/>
<rect x="516.87" y="709.07" width="49.63" height="44.15" fill="#b8c431"/>
<rect x="565.29" y="709.07" width="49.63" height="44.15" fill="#afc637"/>
<rect x="613.72" y="709.07" width="49.63" height="44.15" fill="#a6c83d"/>
<rect x="662.15" y="709.07" width="49.63" height="44.15" fill="#9dc943"/>
<rect x="710.58" y="709.07" width="49.63" height="44.15" fill="#94ca4a"/>
<rect x="759" y="709.07" width="49.63" height="44.15" fill="#8bcb51"/>
<rect x="807.43" y="709.07" width="49.63" height="44.15" fill="#83cc57"/>
<rect x="855.86" y="709.07" width="49.63" height="44.15" fill="#7bcc5d"/>
<rect x="904.29" y="709.07" width="49.63" height="44.15" fill="#73cd63"/>
<rect x="952.71" y="709.07" width="49.63" height="44.15" fill="#6ccd68"/>
<rect x="1001.14" y="709.07" width="49.63" height="44.15" fill="#65cd6e"/>
<rect x="1049.57" y="709.07" width="49.63" height="44.15" fill="#5fcd73"/>
<rect x="1098" y="709.07" width="49.63" height="44.15" fill="#59cc78"/>
<rect x="1146.42" y="709.07" width="49.63" height="44.15" fill="#54cc7d"/>
<rect x="1194.85" y="709.07" width="49.63" height="44.15" fill="#4fcc81"/>
<rect x="1243.28" y="709.07" width="49.63" height="44.15" fill="#4acb85"/>
<rect x="1291.71" y="709.07" width="49.63" height="44.15" fill="#46cb88"/>
<rect x="1340.13" y="709.07" width="49.63" height="44.15" fill="#42ca8b"/>
<rect x="1388.56" y="709.07" width="49.63" height="44.15" fill="#3eca8f"/>
<rect x="1436.99" y="709.07" width="49.63" height="44.15" fill="#3cc991"/>
<rect x="1485.42" y="709.07" width="49.63" height="44.15" fill="#3ac994"/>
<rect x="1533.84" y="709.07" width="49.63" height="44.15" fill="#37c897"/>
<rect x="1582.27" y="709.07" width="49.03" height="44.15" fill="#36c899"/>
<rect x="196.2" y="752.02" width="31.3" height="44.15" fill="#f8ba3d"/>
<rect x="226.3" y="752.02" width="49.63" height="44.15" fill="#f1ba37"/>
<rect x="274.73" y="752.02" width="49.63" height="44.15" fill="#eaba31"/>
<rect x="323.16" y="752.02" width="49.63" height="44.15" fill="#e3bc2c"/>
<rect x="371.58" y="752.02" width="49.63" height="44.15" fill="#dbbd29"/>
<rect x="420.01" y="752.02" width="49.63" height="44.15" fill="#d3bf27"/>
<rect x="468.44" y="752.02" width="49.63" height="44.15" fill="#cbc029"/>
<rect x="516.87" y="752.02" width="49.63" height="44.15" fill="#c3c22b"/>
<rect x="565.29" y="752.02" width="49.63" height="44.15" fill="#bbc42f"/>
<rect x="613.72" y="752.02" width="49.63" height="44.15" fill="#b3c534"/>
<rect x="662.15" y="752.02" width="49.63" height="44.15" fill="#acc739"/>
<rect x="710.58" y="752.02" width="49.63" height="44.15" fill="#a4c83e"/>
<rect x="759" y="752.02" width="49.63" height="44.15" fill="#9cc944"/>
<rect x="807.43" y="752.02" width="49.63" height="44.15" fill="#95ca49"/>
<rect x="855.86" y="752.02" width="49.63" height="44.15" fill="#8ecb4f"/>
<rect x="904.29" y="752.02" width="49.63" height="44.15" fill="#87cb54"/>
<rect x="952.71" y="752.02" width="49.63" height="44.15" fill="#80cc59"/>
<rect x="1001.14" y="752.02" width="49.63" height="44.15" fill="#79cc5e"/>
<rect x="1049.57" y="752.02" width="49.63" height="44.15" fill="#72cd63"/>
<rect x="1098" y="752.02" width="49.63" height="44.15" fill="#6ccd68"/>
<rect x="1146.42" y="752.02" width="49.63" height="44.15" fill="#67cd6d"/>
<rect x="1194.85" y="752.02" width="49.63" height="44.15" fill="#61cd71"/>
<rect x="1243.28" y="752.02" width="49.63" height="44.15" fill="#5ccc75"/>
<rect x="1291.71" y="752.02" width="49.63" height="44.15" fill="#57cc7a"/>
<rect x="1340.13" y="752.02" width="49.63" height="44.15" fill="#53cc7d"/>
<rect x="1388.56" y="752.02" width="49.63" height="44.15" fill="#4ecc81"/>
<rect x="1436.99" y="752.02" width="49.63" height="44.15" fill="#49cb85"/>
<rect x="1485.42" y="752.02" width="49.63" height="44.15" fill="#45cb88"/>
<rect x="1533.84" y="752.02" width="49.63" height="44.15" fill="#42ca8c"/>
<rect x="1582.27" y="752.02" width="49.03" height="44.15" fill="#3eca8f"/>
<rect x="196.2" y="794.98" width="31.3" height="44.15" fill="#fbbc3d"/>
<rect x="226.3" y="794.98" width="49.63" height="44.15" fill="#f6ba3b"/>
<rect x="274.73" y="794.98" width="49.63" height="44.15" fill="#f0ba36"/>
<rect x="323.16" y="794.98" width="49.63" height="44.15" fill="#e9bb30"/>
<rect x="371.58" y="794.98" width="49.63" height="44.15" fill="#e2bc2b"/>
<rect x="420.01" y="794.98" width="49.63" height="44.15" fill="#dcbd29"/>
<rect x="468.44" y="794.98" width="49.63" height="44.15" fill="#d5be28"/>
<rect x="516.87" y="794.98" width="49.63" height="44.15" fill="#cec028"/>
<rect x="565.29" y="794.98" width="49.63" height="44.15" fill="#c7c12a"/>
<rect x="613.72" y="794.98" width="49.63" height="44.15" fill="#c0c32d"/>
<rect x="662.15" y="794.98" width="49.63" height="44.15" fill="#b9c430"/>
<rect x="710.58" y="794.98" width="49.63" height="44.15" fill="#b2c535"/>
<rect x="759" y="794.98" width="49.63" height="44.15" fill="#acc739"/>
<rect x="807.43" y="794.98" width="49.63" height="44.15" fill="#a5c83d"/>
<rect x="855.86" y="794.98" width="49.63" height="44.15" fill="#9ec942"/>
<rect x="904.29" y="794.98" width="49.63" height="44.15" fill="#98c947"/>
<rect x="952.71" y="794.98" width="49.63" height="44.15" fill="#92ca4c"/>
<rect x="1001.14" y="794.98" width="49.63" height="44.15" fill="#8bcb51"/>
<rect x="1049.57" y="794.98" width="49.63" height="44.15" fill="#85cb55"/>
<rect x="1098" y="794.98" width="49.63" height="44.15" fill="#7fcc5a"/>
<rect x="1146.42" y="794.98" width="49.63" height="44.15" fill="#79cc5e"/>
<rect x="1194.85" y="794.98" width="49.63" height="44.15" fill="#73cd63"/>
<rect x="1243.28" y="794.98" width="49.63" height="44.15" fill="#6dcd67"/>
<rect x="1291.71" y="794.98" width="49.63" height="44.15" fill="#68cd6c"/>
<rect x="1340.13" y="794.98" width="49.63" height="44.15" fill="#63cd70"/>
<rect x="1388.56" y="794.98" width="49.63" height="44.15" fill="#5dcc74"/>
<rect x="1436.99" y="794.98" width="49.63" height="44.15" fill="#58cc79"/>
<rect x="1485.42" y="794.98" width="49.63" height="44.15" fill="#53cc7d"/>
<rect x="1533.84" y="794.98" width="49.63" height="44.15" fill="#4ecc81"/>
<rect x="1582.27" y="794.98" width="49.03" height="44.15" fill="#49cb85"/>
<rect x="196.2" y="837.93" width="31.3" height="44.15" fill="#fdbd3d"/>
<rect x="226.3" y="837.93" width="49.63" height="44.15" fill="#f9bb3d"/>
<rect x="274.73" y="837.93" width="49.63" height="44.15" fill="#f4ba3a"/>
<rect x="323.16" y="837.93" width="49.63" height="44.15" fill="#eeba35"/>
<rect x="371.58" y="837.93" width="49.63" height="44.15" fill="#e9bb2f"/>
<rect x="420.01" y="837.93" width="49.63" height="44.15" fill="#e3bc2c"/>
<rect x="468.44" y="837.93" width="49.63" height="44.15" fill="#ddbd29"/>
<rect x="516.87" y="837.93" width="49.63" height="44.15" fill="#d7be28"/>
<rect x="565.29" y="837.93" width="49.63" height="44.15" fill="#d1bf27"/>
<rect x="613.72" y="837.93" width="49.63" height="44.15" fill="#cac129"/>
<rect x="662.15" y="837.93" width="49.63" height="44.15" fill="#c4c22a"/>
<rect x="710.58" y="837.93" width="49.63" height="44.15" fill="#bec32e"/>
<rect x="759" y="837.93" width="49.63" height="44.15" fill="#b8c431"/>
<rect x="807.43" y="837.93" width="49.63" height="44.15" fill="#b2c635"/>
<rect x="855.86" y="837.93" width="49.63" height="44.15" fill="#acc738"/>
<rect x="904.29" y="837.93" width="49.63" height="44.15" fill="#a6c83d"/>
<rect x="952.71" y="837.93" width="49.63" height="44.15" fill="#a0c841"/>
<rect x="1001.14" y="837.93" width="49.63" height="44.15" fill="#9ac945"/>
<rect x="1049.57" y="837.93" width="49.63" height="44.15" fill="#94ca4a"/>
<rect x="1098" y="837.93" width="49.63" height="44.15" fill="#8ecb4f"/>
<rect x="1146.42" y="837.93" width="49.63" height="44.15" fill="#88cb53"/>
<rect x="1194.85" y="837.93" width="49.63" height="44.15" fill="#82cc58"/>
<rect x="1243.28" y="837.93" width="49.63" height="44.15" fill="#7ccc5c"/>
<rect x="1291.71" y="837.93" width="49.63" height="44.15" fill="#76cc60"/>
<rect x="1340.13" y="837.93" width="49.63" height="44.15" fill="#70cd65"/>
<rect x="1388.56" y="837.93" width="49.63" height="44.15" fill="#6bcd69"/>
<rect x="1436.99" y="837.93" width="49.63" height="44.15" fill="#65cd6e"/>
<rect x="1485.42" y="837.93" width="49.63" height="44.15" fill="#60cd73"/>
<rect x="1533.84" y="837.93" width="49.63" height="44.15" fill="#5acc77"/>
<rect x="1582.27" y="837.93" width="49.03" height="44.15" fill="#55cc7c"/>
<rect x="196.2" y="880.88" width="31.3" height="44.15" fill="#febf3b"/>
<rect x="226.3" y="880.88" width="49.63" height="44.15" fill="#fcbc3d"/>
<rect x="274.73" y="880.88" width="49.63" height="44.15" fill="#f8ba3d"/>
<rect x="323.16" y="880.88" width="49.63" height="44.15" fill="#f3ba39"/>
<rect x="371.58" y="880.88" width="49.63" height="44.15" fill="#eeba35"/>
<rect x="420.01" y="880.88" width="49.63" height="44.15" fill="#e9bb30"/>
<rect x="468.44" y="880.88" width="49.63" height="44.15" fill="#e4bb2c"/>
<rect x="516.87" y="880.88" width="49.63" height="44.15" fill="#dfbc2a"/>
<rect x="565.29" y="880.88" width="49.63" height="44.15" fill="#d9bd28"/>
<rect x="613.72" y="880.88" width="49.63" height="44.15" fill="#d4bf28"/>
<rect x="662.15" y="880.88" width="49.63" height="44.15" fill="#cec028"/>
<rect x="710.58" y="880.88" width="49.63" height="44.15" fill="#c9c129"/>
<rect x="759" y="880.88" width="49.63" height="44.15" fill="#c3c22b"/>
<rect x="807.43" y="880.88" width="49.63" height="44.15" fill="#bdc32e"/>
<rect x="855.86" y="880.88" width="49.63" height="44.15" fill="#b8c431"/>
<rect x="904.29" y="880.88" width="49.63" height="44.15" fill="#b2c635"/>
<rect x="952.71" y="880.88" width="49.63" height="44.15" fill="#acc738"/>
<rect x="1001.14" y="880.88" width="49.63" height="44.15" fill="#a6c83c"/>
<rect x="1049.57" y="880.88" width="49.63" height="44.15" fill="#a0c841"/>
<rect x="1098" y="880.88" width="49.63" height="44.15" fill="#9bc945"/>
<rect x="1146.42" y="880.88" width="49.63" height="44.15" fill="#95ca49"/>
<rect x="1194.85" y="880.88" width="49.63" height="44.15" fill="#8fcb4e"/>
<rect x="1243.28" y="880.88" width="49.63" height="44.15" fill="#89cb52"/>
<rect x="1291.71" y="880.88" width="49.63" height="44.15" fill="#83cc57"/>
<rect x="1340.13" y="880.88" width="49.63" height="44.15" fill="#7dcc5b"/>
<rect x="1388.56" y="880.88" width="49.63" height="44.15" fill="#77cc60"/>
<rect x="1436.99" y="880.88" width="49.63" height="44.15" fill="#71cd64"/>
<rect x="1485.42" y="880.88" width="49.63" height="44.15" fill="#6bcd69"/>
<rect x="1533.84" y="880.88" width="49.63" height="44.15" fill="#66cd6d"/>
<rect x="1582.27" y="880.88" width="49.03" height="44.15" fill="#60cd72"/>
<rect x="196.2" y="923.83" width="31.3" height="44.15" fill="#fec13a"/>
<rect x="226.3" y="923.83" width="49.63" height="44.15" fill="#febe3c"/>
<rect x="274.73" y="923.83" width="49.63" height="44.15" fill="#fbbc3d"/>
<rect x="323.16" y="923.83" width="49.63" height="44.15" fill="#f8ba3d"/>
<rect x="371.58" y="923.83" width="49.63" height="44.15" fill="#f4ba3a"/>
<rect x="420.01" y="923.83" width="49.63" height="44.15" fill="#f0ba36"/>
<rect x="468.44" y="923.83" width="49.63" height="44.15" fill="#ebba32"/>
<rect x="516.87" y="923.83" width="49.63" height="44.15" fill="#e7bb2e"/>
<rect x="565.29" y="923.83" width="49.63" height="44.15" fill="#e2bc2b"/>
<rect x="613.72" y="923.83" width="49.63" height="44.15" fill="#ddbd29"/>
<rect x="662.15" y="923.83" width="49.63" height="44.15" fill="#d8be28"/>
<rect x="710.58" y="923.83" width="49.63" height="44.15" fill="#d3bf27"/>
<rect x="759" y="923.83" width="49.63" height="44.15" fill="#cec028"/>
<rect x="807.43" y="923.83" width="49.63" height="44.15" fill="#c9c129"/>
<rect x="855.86" y="923.83" width="49.63" height="44.15" fill="#c3c22b"/>
<rect x="904.29" y="923.83" width="49.63" height="44.15" fill="#bec32e"/>
<rect x="952.71" y="923.83" width="49.63" height="44.15" fill="#b8c431"/>
<rect x="1001.14" y="923.83" width="49.63" height="44.15" fill="#b3c534"/>
<rect x="1049.57" y="923.83" width="49.63" height="44.15" fill="#adc638"/>
<rect x="1098" y="923.83" width="49.63" height="44.15" fill="#a7c73c"/>
<rect x="1146.42" y="923.83" width="49.63" height="44.15" fill="#a2c840"/>
<rect x="1194.85" y="923.83" width="49.63" height="44.15" fill="#9cc944"/>
<rect x="1243.28" y="923.83" width="49.63" height="44.15" fill="#96ca48"/>
<rect x="1291.71" y="923.83" width="49.63" height="44.15" fill="#90ca4d"/>
<rect x="1340.13" y="923.83" width="49.63" height="44.15" fill="#8acb51"/>
<rect x="1388.56" y="923.83" width="49.63" height="44.15" fill="#84cb56"/>
<rect x="1436.99" y="923.83" width="49.63" height="44.15" fill="#7fcc5a"/>
<rect x="1485.42" y="923.83" width="49.63" height="44.15" fill="#79cc5f"/>
<rect x="1533.84" y="923.83" width="49.63" height="44.15" fill="#73cd63"/>
<rect x="1582.27" y="923.83" width="49.03" height="44.15" fill="#6dcd67"/>
<rect x="196.2" y="966.78" width="31.3" height="44.15" fill="#fec338"/>
<rect x="226.3" y="966.78" width="49.63" height="44.15" fill="#fec13a"/>
<rect x="274.73" y="966.78" width="49.63" height="44.15" fill="#febe3c"/>
<rect x="323.16" y="966.78" width="49.63" height="44.15" fill="#fcbd3d"/>
<rect x="371.58" y="966.78" width="49.63" height="44.15" fill="#fabb3d"/>
<rect x="420.01" y="966.78" width="49.63" height="44.15" fill="#f7ba3c"/>
<rect x="468.44" y="966.78" width="49.63" height="44.15" fill="#f3ba39"/>
<rect x="516.87" y="966.78" width="49.63" height="44.15" fill="#efba36"/>
<rect x="565.29" y="966.78" width="49.63" height="44.15" fill="#ebba32"/>
<rect x="613.72" y="966.78" width="49.63" height="44.15" fill="#e7bb2e"/>
<rect x="662.15" y="966.78" width="49.63" height="44.15" fill="#e3bc2c"/>
<rect x="710.58" y="966.78" width="49.63" height="44.15" fill="#debc2a"/>
<rect x="759" y="966.78" width="49.63" height="44.15" fill="#dabd28"/>
<rect x="807.43" y="966.78" width="49.63" height="44.15" fill="#d5be28"/>
<rect x="855.86" y="966.78" width="49.63" height="44.15" fill="#d0bf27"/>
<rect x="904.29" y="966.78" width="49.63" height="44.15" fill="#cbc129"/>
<rect x="952.71" y="966.78" width="49.63" height="44.15" fill="#c5c22a"/>
<rect x="1001.14" y="966.78" width="49.63" height="44.15" fill="#c0c32d"/>
<rect x="1049.57" y="966.78" width="49.63" height="44.15" fill="#bac430"/>
<rect x="1098" y="966.78" width="49.63" height="44.15" fill="#b5c533"/>
<rect x="1146.42" y="966.78" width="49.63" height="44.15" fill="#afc637"/>
<rect x="1194.85" y="966.78" width="49.63" height="44.15" fill="#a9c73a"/>
<rect x="1243.28" y="966.78" width="49.63" height="44.15" fill="#a4c83e"/>
<rect x="1291.71" y="966.78" width="49.63" height="44.15" fill="#9ec942"/>
<rect x="1340.13" y="966.78" width="49.63" height="44.15" fill="#98c947"/>
<rect x="1388.56" y="966.78" width="49.63" height="44.15" fill="#93ca4b"/>
<rect x="1436.99" y="966.78" width="49.63" height="44.15" fill="#8dcb4f"/>
<rect x="1485.42" y="966.78" width="49.63" height="44.15" fill="#88cb53"/>
<rect x="1533.84" y="966.78" width="49.63" height="44.15" fill="#83cc57"/>
<rect x="1582.27" y="966.78" width="49.03" height="44.15" fill="#7dcc5b"/>
<rect x="196.2" y="1009.73" width="31.3" height="44.15" fill="#fec537"/>
<rect x="226.3" y="1009.73" width="49.63" height="44.15" fill="#fec338"/>
<rect x="274.73" y="1009.73" width="49.63" height="44.15" fill="#fec139"/>
<rect x="323.16" y="1009.73" width="49.63" height="44.15" fill="#fec03b"/>
<rect x="371.58" y="1009.73" width="49.63" height="44.15" fill="#febe3c"/>
<rect x="420.01" y="1009.73" width="49.63" height="44.15" fill="#fcbd3d"/>
<rect x="468.44" y="1009.73" width="49.63" height="44.15" fill="#fabb3d"/>
<rect x="516.87" y="1009.73" width="49.63" height="44.15" fill="#f8ba3d"/>
<rect x="565.29" y="1009.73" width="49.63" height="44.15" fill="#f4ba3a"/>
<rect x="613.72" y="1009.73" width="49.63" height="44.15" fill="#f1ba37"/>
<rect x="662.15" y="1009.73" width="49.63" height="44.15" fill="#edba33"/>
<rect x="710.58" y="1009.73" width="49.63" height="44.15" fill="#e9bb30"/>
<rect x="759" y="1009.73" width="49.63" height="44.15" fill="#e5bb2d"/>
<rect x="807.43" y="1009.73" width="49.63" height="44.15" fill="#e1bc2b"/>
<rect x="855.86" y="1009.73" width="49.63" height="44.15" fill="#dcbd29"/>
<rect x="904.29" y="1009.73" width="49.63" height="44.15" fill="#d7be28"/>
<rect x="952.71" y="1009.73" width="49.63" height="44.15" fill="#d2bf27"/>
<rect x="1001.14" y="1009.73" width="49.63" height="44.15" fill="#cdc028"/>
<rect x="1049.57" y="1009.73" width="49.63" height="44.15" fill="#c7c129"/>
<rect x="1098" y="1009.73" width="49.63" height="44.15" fill="#c2c22c"/>
<rect x="1146.42" y="1009.73" width="49.63" height="44.15" fill="#bcc42f"/>
<rect x="1194.85" y="1009.73" width="49.63" height="44.15" fill="#b7c532"/>
<rect x="1243.28" y="1009.73" width="49.63" height="44.15" fill="#b1c635"/>
<rect x="1291.71" y="1009.73" width="49.63" height="44.15" fill="#acc738"/>
<rect x="1340.13" y="1009.73" width="49.63" height="44.15" fill="#a7c73c"/>
<rect x="1388.56" y="1009.73" width="49.63" height="44.15" fill="#a1c840"/>
<rect x="1436.99" y="1009.73" width="49.63" height="44.15" fill="#9cc943"/>
<rect x="1485.42" y="1009.73" width="49.63" height="44.15" fill="#98ca47"/>
<rect x="1533.84" y="1009.73" width="49.63" height="44.15" fill="#93ca4b"/>
<rect x="1582.27" y="1009.73" width="49.03" height="44.15" fill="#8fcb4e"/>
<rect x="196.2" y="1052.69" width="31.3" height="44.15" fill="#fec735"/>
<rect x="226.3" y="1052.69" width="49.63" height="44.15" fill="#fec636"/>
<rect x="274.73" y="1052.69" width="49.63" height="44.15" fill="#fec537"/>
<rect x="323.16" y="1052.69" width="49.63" height="44.15" fill="#fec438"/>
<rect x="371.58" y="1052.69" width="49.63" height="44.15" fill="#fec239"/>
<rect x="420.01" y="1052.69" width="49.63" height="44.15" fill="#fec13a"/>
<rect x="468.44" y="1052.69" width="49.63" height="44.15" fill="#febf3b"/>
<rect x="516.87" y="1052.69" width="49.63" height="44.15" fill="#fdbd3d"/>
<rect x="565.29" y="1052.69" width="49.63" height="44.15" fill="#fbbc3d"/>
<rect x="613.72" y="1052.69" width="49.63" height="44.15" fill="#f9bb3d"/>
<rect x="662.15" y="1052.69" width="49.63" height="44.15" fill="#f6ba3b"/>
<rect x="710.58" y="1052.69" width="49.63" height="44.15" fill="#f3ba38"/>
<rect x="759" y="1052.69" width="49.63" height="44.15" fill="#efba35"/>
<rect x="807.43" y="1052.69" width="49.63" height="44.15" fill="#ebba31"/>
<rect x="855.86" y="1052.69" width="49.63" height="44.15" fill="#e7bb2e"/>
<rect x="904.29" y="1052.69" width="49.63" height="44.15" fill="#e2bc2b"/>
<rect x="952.71" y="1052.69" width="49.63" height="44.15" fill="#debd29"/>
<rect x="1001.14" y="1052.69" width="49.63" height="44.15" fill="#d9be28"/>
<rect x="1049.57" y="1052.69" width="49.63" height="44.15" fill="#d4bf28"/>
<rect x="1098" y="1052.69" width="49.63" height="44.15" fill="#cfc028"/>
<rect x="1146.42" y="1052.69" width="49.63" height="44.15" fill="#cac129"/>
<rect x="1194.85" y="1052.69" width="49.63" height="44.15" fill="#c5c22a"/>
<rect x="1243.28" y="1052.69" width="49.63" height="44.15" fill="#bfc32d"/>
<rect x="1291.71" y="1052.69" width="49.63" height="44.15" fill="#bac430"/>
<rect x="1340.13" y="1052.69" width="49.63" height="44.15" fill="#b5c533"/>
<rect x="1388.56" y="1052.69" width="49.63" height="44.15" fill="#b0c636"/>
<rect x="1436.99" y="1052.69" width="49.63" height="44.15" fill="#acc738"/>
<rect x="1485.42" y="1052.69" width="49.63" height="44.15" fill="#a7c73c"/>
<rect x="1533.84" y="1052.69" width="49.63" height="44.15" fill="#a3c83e"/>
<rect x="1582.27" y="1052.69" width="49.03" height="44.15" fill="#a0c941"/>
<rect x="196.2" y="1095.64" width="31.3" height="44.15" fill="#feca33"/>
<rect x="226.3" y="1095.64" width="49.63" height="44.15" fill="#feca33"/>
<rect x="274.73" y="1095.64" width="49.63" height="44.15" fill="#fec934"/>
<rect x="323.16" y="1095.64" width="49.63" height="44.15" fill="#fec835"/>
<rect x="371.58" y="1095.64" width="49.63" height="44.15" fill="#fec636"/>
<rect x="420.01" y="1095.64" width="49.63" height="44.15" fill="#fec537"/>
<rect x="468.44" y="1095.64" width="49.63" height="44.15" fill="#fec338"/>
<rect x="516.87" y="1095.64" width="49.63" height="44.15" fill="#fec239"/>
<rect x="565.29" y="1095.64" width="49.63" height="44.15" fill="#fec03b"/>
<rect x="613.72" y="1095.64" width="49.63" height="44.15" fill="#febe3c"/>
<rect x="662.15" y="1095.64" width="49.63" height="44.15" fill="#fcbd3d"/>
<rect x="710.58" y="1095.64" width="49.63" height="44.15" fill="#fabb3d"/>
<rect x="759" y="1095.64" width="49.63" height="44.15" fill="#f8ba3d"/>
<rect x="807.43" y="1095.64" width="49.63" height="44.15" fill="#f4ba3a"/>
<rect x="855.86" y="1095.64" width="49.63" height="44.15" fill="#f1ba37"/>
<rect x="904.29" y="1095.64" width="49.63" height="44.15" fill="#edba33"/>
<rect x="952.71" y="1095.64" width="49.63" height="44.15" fill="#e9bb30"/>
<rect x="1001.14" y="1095.64" width="49.63" height="44.15" fill="#e5bb2d"/>
<rect x="1049.57" y="1095.64" width="49.63" height="44.15" fill="#e1bc2b"/>
<rect x="1098" y="1095.64" width="49.63" height="44.15" fill="#ddbd29"/>
<rect x="1146.42" y="1095.64" width="49.63" height="44.15" fill="#d8be28"/>
<rect x="1194.85" y="1095.64" width="49.63" height="44.15" fill="#d3bf27"/>
<rect x="1243.28" y="1095.64" width="49.63" height="44.15" fill="#cec028"/>
<rect x="1291.71" y="1095.64" width="49.63" height="44.15" fill="#cac129"/>
<rect x="1340.13" y="1095.64" width="49.63" height="44.15" fill="#c5c22a"/>
<rect x="1388.56" y="1095.64" width="49.63" height="44.15" fill="#c0c32d"/>
<rect x="1436.99" y="1095.64" width="49.63" height="44.15" fill="#bbc42f"/>
<rect x="1485.42" y="1095.64" width="49.63" height="44.15" fill="#b7c532"/>
<rect x="1533.84" y="1095.64" width="49.63" height="44.15" fill="#b2c535"/>
<rect x="1582.27" y="1095.64" width="49.03" height="44.15" fill="#aec637"/>
<rect x="196.2" y="1138.59" width="31.3" height="44.15" fill="#fccf30"/>
<rect x="226.3" y="1138.59" width="49.63" height="44.15" fill="#fdce31"/>
<rect x="274.73" y="1138.59" width="49.63" height="44.15" fill="#fdcd31"/>
<rect x="323.16" y="1138.59" width="49.63" height="44.15" fill="#fdcc32"/>
<rect x="371.58" y="1138.59" width="49.63" height="44.15" fill="#fdcb33"/>
<rect x="420.01" y="1138.59" width="49.63" height="44.15" fill="#fec934"/>
<rect x="468.44" y="1138.59" width="49.63" height="44.15" fill="#fec835"/>
<rect x="516.87" y="1138.59" width="49.63" height="44.15" fill="#fec636"/>
<rect x="565.29" y="1138.59" width="49.63" height="44.15" fill="#fec537"/>
<rect x="613.72" y="1138.59" width="49.63" height="44.15" fill="#fec338"/>
<rect x="662.15" y="1138.59" width="49.63" height="44.15" fill="#febe3c"/>
<rect x="710.58" y="1138.59" width="49.63" height="44.15" fill="#fdbd3d"/>
<rect x="759" y="1138.59" width="49.63" height="44.15" fill="#fbbc3d"/>
<rect x="807.43" y="1138.59" width="49.63" height="44.15" fill="#f9bb3d"/>
<rect x="855.86" y="1138.59" width="49.63" height="44.15" fill="#f6ba3b"/>
<rect x="904.29" y="1138.59" width="49.63" height="44.15" fill="#f3ba38"/>
<rect x="952.71" y="1138.59" width="49.63" height="44.15" fill="#f0ba36"/>
<rect x="1001.14" y="1138.59" width="49.63" height="44.15" fill="#ecba32"/>
<rect x="1049.57" y="1138.59" width="49.63" height="44.15" fill="#e8bb2f"/>
<rect x="1098" y="1138.59" width="49.63" height="44.15" fill="#e5bb2c"/>
<rect x="1146.42" y="1138.59" width="49.63" height="44.15" fill="#e0bc2b"/>
<rect x="1194.85" y="1138.59" width="49.63" height="44.15" fill="#dcbd29"/>
<rect x="1243.28" y="1138.59" width="49.63" height="44.15" fill="#d8be28"/>
<rect x="1291.71" y="1138.59" width="49.63" height="44.15" fill="#d3bf27"/>
<rect x="1340.13" y="1138.59" width="49.63" height="44.15" fill="#cec028"/>
<rect x="1388.56" y="1138.59" width="49.63" height="44.15" fill="#cac129"/>
<rect x="1436.99" y="1138.59" width="49.63" height="44.15" fill="#c5c22a"/>
<rect x="1485.42" y="1138.59" width="49.63" height="44.15" fill="#bfc32d"/>
<rect x="1533.84" y="1138.59" width="49.63" height="44.15" fill="#bac430"/>
<rect x="1582.27" y="1138.59" width="49.03" height="44.15" fill="#bcc42f"/>
<rect x="196.2" y="1181.54" width="31.3" height="44.15" fill="#fad52d"/>
<rect x="226.3" y="1181.54" width="49.63" height="44.15" fill="#fad42e"/>
<rect x="274.73" y="1181.54" width="49.63" height="44.15" fill="#fbd22f"/>
<rect x="323.16" y="1181.54" width="49.63" height="44.15" fill="#fcd12f"/>
<rect x="371.58" y="1181.54" width="49.63" height="44.15" fill="#fccf30"/>
<rect x="420.01" y="1181.54" width="49.63" height="44.15" fill="#fdce31"/>
<rect x="468.44" y="1181.54" width="49.63" height="44.15" fill="#fdcc32"/>
<rect x="516.87" y="1181.54" width="49.63" height="44.15" fill="#fdcb33"/>
<rect x="565.29" y="1181.54" width="49.63" height="44.15" fill="#fec934"/>
<rect x="613.72" y="1181.54" width="49.63" height="44.15" fill="#fec835"/>
<rect x="662.15" y="1181.54" width="49.63" height="44.15" fill="#fec338"/>
<rect x="710.58" y="1181.54" width="49.63" height="44.15" fill="#fec13a"/>
<rect x="759" y="1181.54" width="49.63" height="44.15" fill="#fec03b"/>
<rect x="807.43" y="1181.54" width="49.63" height="44.15" fill="#febe3c"/>
<rect x="855.86" y="1181.54" width="49.63" height="44.15" fill="#fcbd3d"/>
<rect x="904.29" y="1181.54" width="49.63" height="44.15" fill="#fabb3d"/>
<rect x="952.71" y="1181.54" width="49.63" height="44.15" fill="#f8ba3d"/>
<rect x="1001.14" y="1181.54" width="49.63" height="44.15" fill="#f6ba3b"/>
<rect x="1049.57" y="1181.54" width="49.63" height="44.15" fill="#f3ba38"/>
<rect x="1098" y="1181.54" width="49.63" height="44.15" fill="#efba35"/>
<rect x="1146.42" y="1181.54" width="49.63" height="44.15" fill="#ecba32"/>
<rect x="1194.85" y="1181.54" width="49.63" height="44.15" fill="#e9bb2f"/>
<rect x="1243.28" y="1181.54" width="49.63" height="44.15" fill="#e5bb2d"/>
<rect x="1291.71" y="1181.54" width="49.63" height="44.15" fill="#e1bc2b"/>
<rect x="1340.13" y="1181.54" width="49.63" height="44.15" fill="#dcbd29"/>
<rect x="1388.56" y="1181.54" width="49.63" height="44.15" fill="#d8be28"/>
<rect x="1436.99" y="1181.54" width="49.63" height="44.15" fill="#d3bf27"/>
<rect x="1485.42" y="1181.54" width="49.63" height="44.15" fill="#cec028"/>
<rect x="1533.84" y="1181.54" width="49.63" height="44.15" fill="#c9c129"/>
<rect x="1582.27" y="1181.54" width="49.03" height="44.15" fill="#c9c129"/>
<rect x="196.2" y="1224.49" width="31.3" height="44.15" fill="#f6de29"/>
<rect x="226.3" y="1224.49" width="49.63" height="44.15" fill="#f7db2a"/>
<rect x="274.73" y="1224.49" width="49.63" height="44.15" fill="#f8d92b"/>
<rect x="323.16" y="1224.49" width="49.63" height="44.15" fill="#f9d72d"/>
<rect x="371.58" y="1224.49" width="49.63" height="44.15" fill="#fad52e"/>
<rect x="420.01" y="1224.49" width="49.63" height="44.15" fill="#fbd32e"/>
<rect x="468.44" y="1224.49" width="49.63" height="44.15" fill="#fcd12f"/>
<rect x="516.87" y="1224.49" width="49.63" height="44.15" fill="#fccf30"/>
<rect x="565.29" y="1224.49" width="49.63" height="44.15" fill="#fdcd31"/>
<rect x="613.72" y="1224.49" width="49.63" height="44.15" fill="#fdcb33"/>
<rect x="662.15" y="1224.49" width="49.63" height="44.15" fill="#fec736"/>
<rect x="710.58" y="1224.49" width="49.63" height="44.15" fill="#fec537"/>
<rect x="759" y="1224.49" width="49.63" height="44.15" fill="#fec338"/>
<rect x="807.43" y="1224.49" width="49.63" height="44.15" fill="#fec139"/>
<rect x="855.86" y="1224.49" width="49.63" height="44.15" fill="#fec03b"/>
<rect x="904.29" y="1224.49" width="49.63" height="44.15" fill="#febe3c"/>
<rect x="952.71" y="1224.49" width="49.63" height="44.15" fill="#fdbd3d"/>
<rect x="1001.14" y="1224.49" width="49.63" height="44.15" fill="#fbbc3d"/>
<rect x="1049.57" y="1224.49" width="49.63" height="44.15" fill="#f9bb3d"/>
<rect x="1098" y="1224.49" width="49.63" height="44.15" fill="#f7ba3c"/>
<rect x="1146.42" y="1224.49" width="49.63" height="44.15" fill="#f5ba3a"/>
<rect x="1194.85" y="1224.49" width="49.63" height="44.15" fill="#f2ba38"/>
<rect x="1243.28" y="1224.49" width="49.63" height="44.15" fill="#efba35"/>
<rect x="1291.71" y="1224.49" width="49.63" height="44.15" fill="#ebba32"/>
<rect x="1340.13" y="1224.49" width="49.63" height="44.15" fill="#e8bb2f"/>
<rect x="1388.56" y="1224.49" width="49.63" height="44.15" fill="#e4bb2c"/>
<rect x="1436.99" y="1224.49" width="49.63" height="44.15" fill="#e0bc2a"/>
<rect x="1485.42" y="1224.49" width="49.63" height="44.15" fill="#dbbd29"/>
<rect x="1533.84" y="1224.49" width="49.63" height="44.15" fill="#d6be28"/>
<rect x="1582.27" y="1224.49" width="49.03" height="44.15" fill="#d6be28"/>
<rect x="196.2" y="1267.44" width="31.3" height="44.15" fill="#f5e924"/>
<rect x="226.3" y="1267.44" width="49.63" height="44.15" fill="#f5e526"/>
<rect x="274.73" y="1267.44" width="49.63" height="44.15" fill="#f5e128"/>
<rect x="323.16" y="1267.44" width="49.63" height="44.15" fill="#f6de29"/>
<rect x="371.58" y="1267.44" width="49.63" height="44.15" fill="#f7db2b"/>
<rect x="420.01" y="1267.44" width="49.63" height="44.15" fill="#f9d82c"/>
<rect x="468.44" y="1267.44" width="49.63" height="44.15" fill="#fad52d"/>
<rect x="516.87" y="1267.44" width="49.63" height="44.15" fill="#fbd32e"/>
<rect x="565.29" y="1267.44" width="49.63" height="44.15" fill="#fcd12f"/>
<rect x="613.72" y="1267.44" width="49.63" height="44.15" fill="#fccf30"/>
<rect x="662.15" y="1267.44" width="49.63" height="44.15" fill="#fdcd32"/>
<rect x="710.58" y="1267.44" width="49.63" height="44.15" fill="#fdcb33"/>
<rect x="759" y="1267.44" width="49.63" height="44.15" fill="#fec934"/>
<rect x="807.43" y="1267.44" width="49.63" height="44.15" fill="#fec835"/>
<rect x="855.86" y="1267.44" width="49.63" height="44.15" fill="#fec636"/>
<rect x="904.29" y="1267.44" width="49.63" height="44.15" fill="#fec537"/>
<rect x="952.71" y="1267.44" width="49.63" height="44.15" fill="#fec338"/>
<rect x="1001.14" y="1267.44" width="49.63" height="44.15" fill="#fec239"/>
<rect x="1049.57" y="1267.44" width="49.63" height="44.15" fill="#fec03a"/>
<rect x="1098" y="1267.44" width="49.63" height="44.15" fill="#febf3b"/>
<rect x="1146.42" y="1267.44" width="49.63" height="44.15" fill="#febe3c"/>
<rect x="1194.85" y="1267.44" width="49.63" height="44.15" fill="#fcbd3d"/>
<rect x="1243.28" y="1267.44" width="49.63" height="44.15" fill="#fabc3d"/>
<rect x="1291.71" y="1267.44" width="49.63" height="44.15" fill="#f9ba3d"/>
<rect x="1340.13" y="1267.44" width="49.63" height="44.15" fill="#f6ba3b"/>
<rect x="1388.56" y="1267.44" width="49.63" height="44.15" fill="#f3ba39"/>
<rect x="1436.99" y="1267.44" width="49.63" height="44.15" fill="#efba36"/>
<rect x="1485.42" y="1267.44" width="49.63" height="44.15" fill="#ecba32"/>
<rect x="1533.84" y="1267.44" width="49.63" height="44.15" fill="#e7bb2e"/>
<rect x="1582.27" y="1267.44" width="49.03" height="44.15" fill="#e2bc2b"/>
<rect x="196.2" y="1310.4" width="31.3" height="44.15" fill="#f7f31d"/>
<rect x="226.3" y="1310.4" width="49.63" height="44.15" fill="#f5ee21"/>
<rect x="274.73" y="1310.4" width="49.63" height="44.15" fill="#f5ea24"/>
<rect x="323.16" y="1310.4" width="49.63" height="44.15" fill="#f5e626"/>
<rect x="371.58" y="1310.4" width="49.63" height="44.15" fill="#f5e227"/>
<rect x="420.01" y="1310.4" width="49.63" height="44.15" fill="#f6df29"/>
<rect x="468.44" y="1310.4" width="49.63" height="44.15" fill="#f6df29"/>
<rect x="516.87" y="1310.4" width="49.63" height="44.15" fill="#f7dc2a"/>
<rect x="565.29" y="1310.4" width="49.63" height="44.15" fill="#f8d92b"/>
<rect x="613.72" y="1310.4" width="49.63" height="44.15" fill="#f9d72c"/>
<rect x="662.15" y="1310.4" width="49.63" height="44.15" fill="#fad52d"/>
<rect x="710.58" y="1310.4" width="49.63" height="44.15" fill="#fbd32e"/>
<rect x="759" y="1310.4" width="49.63" height="44.15" fill="#fbd12f"/>
<rect x="807.43" y="1310.4" width="49.63" height="44.15" fill="#fcd030"/>
<rect x="855.86" y="1310.4" width="49.63" height="44.15" fill="#fdcb33"/>
<rect x="904.29" y="1310.4" width="49.63" height="44.15" fill="#feca33"/>
<rect x="952.71" y="1310.4" width="49.63" height="44.15" fill="#fec834"/>
<rect x="1001.14" y="1310.4" width="49.63" height="44.15" fill="#fec735"/>
<rect x="1049.57" y="1310.4" width="49.63" height="44.15" fill="#fec239"/>
<rect x="1098" y="1310.4" width="49.63" height="44.15" fill="#fec13a"/>
<rect x="1146.42" y="1310.4" width="49.63" height="44.15" fill="#fec03b"/>
<rect x="1194.85" y="1310.4" width="49.63" height="44.15" fill="#febf3c"/>
<rect x="1243.28" y="1310.4" width="49.63" height="44.15" fill="#fdbd3d"/>
<rect x="1291.71" y="1310.4" width="49.63" height="44.15" fill="#fcbc3d"/>
<rect x="1340.13" y="1310.4" width="49.63" height="44.15" fill="#fabb3d"/>
<rect x="1388.56" y="1310.4" width="49.63" height="44.15" fill="#f8ba3d"/>
<rect x="1436.99" y="1310.4" width="49.63" height="44.15" fill="#f5ba3b"/>
<rect x="1485.42" y="1310.4" width="49.63" height="44.15" fill="#f2ba38"/>
<rect x="1533.84" y="1310.4" width="49.63" height="44.15" fill="#f4ba39"/>
<rect x="1582.27" y="1310.4" width="49.03" height="44.15" fill="#f0ba36"/>
<rect x="196.2" y="1353.35" width="31.3" height="43.55" fill="#f9fb15"/>
<rect x="226.3" y="1353.35" width="49.63" height="43.55" fill="#f8f719"/>
<rect x="274.73" y="1353.35" width="49.63" height="43.55" fill="#f7f31d"/>
<rect x="323.16" y="1353.35" width="49.63" height="43.55" fill="#f6f020"/>
<rect x="371.58" y="1353.35" width="49.63" height="43.55" fill="#f5ed22"/>
<rect x="420.01" y="1353.35" width="49.63" height="43.55" fill="#f5e924"/>
<rect x="468.44" y="1353.35" width="49.63" height="43.55" fill="#f5ea24"/>
<rect x="516.87" y="1353.35" width="49.63" height="43.55" fill="#f5e725"/>
<rect x="565.29" y="1353.35" width="49.63" height="43.55" fill="#f5e426"/>
<rect x="613.72" y="1353.35" width="49.63" height="43.55" fill="#f5e228"/>
<rect x="662.15" y="1353.35" width="49.63" height="43.55" fill="#f6e028"/>
<rect x="710.58" y="1353.35" width="49.63" height="43.55" fill="#f6dd29"/>
<rect x="759" y="1353.35" width="49.63" height="43.55" fill="#f7db2a"/>
<rect x="807.43" y="1353.35" width="49.63" height="43.55" fill="#f8da2b"/>
<rect x="855.86" y="1353.35" width="49.63" height="43.55" fill="#fad52e"/>
<rect x="904.29" y="1353.35" width="49.63" height="43.55" fill="#fbd32e"/>
<rect x="952.71" y="1353.35" width="49.63" height="43.55" fill="#fcd12f"/>
<rect x="1001.14" y="1353.35" width="49.63" height="43.55" fill="#fcd030"/>
<rect x="1049.57" y="1353.35" width="49.63" height="43.55" fill="#fdca33"/>
<rect x="1098" y="1353.35" width="49.63" height="43.55" fill="#fec934"/>
<rect x="1146.42" y="1353.35" width="49.63" height="43.55" fill="#fec835"/>
<rect x="1194.85" y="1353.35" width="49.63" height="43.55" fill="#fec636"/>
<rect x="1243.28" y="1353.35" width="49.63" height="43.55" fill="#fec537"/>
<rect x="1291.71" y="1353.35" width="49.63" height="43.55" fill="#fec438"/>
<rect x="1340.13" y="1353.35" width="49.63" height="43.55" fill="#fec239"/>
<rect x="1388.56" y="1353.35" width="49.63" height="43.55" fill="#fec13a"/>
<rect x="1436.99" y="1353.35" width="49.63" height="43.55" fill="#fec03b"/>
<rect x="1485.42" y="1353.35" width="49.63" height="43.55" fill="#febe3c"/>
<rect x="1533.84" y="1353.35" width="49.63" height="43.55" fill="#fec03b"/>
<rect x="1582.27" y="1353.35" width="49.03" height="43.55" fill="#febe3c"/>
</g>
</g>
<path d="M469.04 125.1V1396.6M517.47 125.1V1396.6M565.89 125.1V1396.6M614.32 125.1V1396.6M662.75 125.1V1396.6M1147.02 125.1V1396.6M1195.45 125.1V1396.6M1243.88 125.1V1396.6M1292.31 125.1V1396.6M1340.73 125.1V1396.6M197 151.3H1631M197 280.16H1631M197 409.01H1631M197 537.87H1631M197 666.72H1631M197 795.58H1631M197 924.43H1631M197 1053.29H1631M197 1182.14H1631M197 1311H1631" stroke="#000" stroke-width="2.2" fill="none" filter="url(#soft2)"/>
<path d="M226.9 125.1V1396.6M275.33 125.1V1396.6M323.76 125.1V1396.6M372.18 125.1V1396.6M420.61 125.1V1396.6M711.18 125.1V1396.6M759.6 125.1V1396.6M808.03 125.1V1396.6M856.46 125.1V1396.6M904.89 125.1V1396.6M953.31 125.1V1396.6M1001.74 125.1V1396.6M1050.17 125.1V1396.6M1098.6 125.1V1396.6M1389.16 125.1V1396.6M1437.59 125.1V1396.6M1486.02 125.1V1396.6M1534.44 125.1V1396.6M1582.87 125.1V1396.6M197 194.25H1631M197 237.2H1631M197 323.11H1631M197 366.06H1631M197 451.96H1631M197 494.91H1631M197 580.82H1631M197 623.77H1631M197 709.67H1631M197 752.62H1631M197 838.53H1631M197 881.48H1631M197 967.38H1631M197 1010.33H1631M197 1096.24H1631M197 1139.19H1631M197 1225.09H1631M197 1268.04H1631M197 1353.95H1631" stroke="#000" stroke-width="2.15" fill="none" filter="url(#soft)"/>
<path d="M1631.3 124.3V1398.1M196.2 1396.9H1632.5" stroke="#0b0b0b" stroke-width="2.5" fill="none"/>
<path d="M196.7 1411.5H1649.4M197.8 1411.5V1398M377.5 1411.5V1398M559.6 1411.5V1398M741.9 1411.5V1398M924.25 1411.5V1398M1104.1 1411.5V1398M1286.3 1411.5V1398M1468.5 1411.5V1398M1648.4 1411.5V1398" stroke="#262626" stroke-width="2.3" fill="none" filter="url(#soft)"/>
<g filter="url(#soft)">
<line x1="378.1" y1="124.6" x2="1632.4" y2="1236.2" stroke="#f00" stroke-width="12.9" stroke-dasharray="60.6 55.85" stroke-dashoffset="0"/>
<text x="911.1" y="803.7" font-size="172" fill="#f00" stroke="#f00" stroke-width="2" stroke-linejoin="miter">*</text>
</g>
<rect x="1313.9" y="124.3" width="1" height="1288.7" fill="#fff" opacity="0.25"/>
<rect x="1721.3" y="123.1" width="78.1" height="1288.1" fill="url(#cb)" stroke="#262626" stroke-width="2.1"/>
<path d="M1799.4 1365.2H1785.6M1799.4 1154.24H1785.6M1799.4 943.28H1785.6M1799.4 732.32H1785.6M1799.4 521.36H1785.6M1799.4 310.4H1785.6" stroke="#262626" stroke-width="2.1" fill="none"/>
<g filter="url(#soft)">
<text x="1818.8" y="1380.6" font-size="47.2" fill="#262626">1.7</text>
<text x="1818.8" y="1169.64" font-size="47.2" fill="#262626">1.8</text>
<text x="1818.8" y="958.68" font-size="47.2" fill="#262626">1.9</text>
<text x="1818.8" y="747.72" font-size="47.2" fill="#262626">2</text>
<text x="1818.8" y="536.76" font-size="47.2" fill="#262626">2.1</text>
<text x="1818.8" y="325.8" font-size="47.2" fill="#262626">2.2</text>
<text x="169" y="1483.2" font-size="51.6" fill="#262626">72</text>
<text x="350.34" y="1483.2" font-size="51.6" fill="#262626">73</text>
<text x="531.68" y="1483.2" font-size="51.6" fill="#262626">74</text>
<text x="713.02" y="1483.2" font-size="51.6" fill="#262626">75</text>
<text x="894.35" y="1483.2" font-size="51.6" fill="#262626">76</text>
<text x="1075.69" y="1483.2" font-size="51.6" fill="#262626">77</text>
<text x="1257.03" y="1483.2" font-size="51.6" fill="#262626">78</text>
<text x="1438.37" y="1483.2" font-size="51.6" fill="#262626">79</text>
<text x="1619.7" y="1483.2" font-size="51.6" fill="#262626">80</text>
<text x="119.51" y="1432.45" font-size="51.6" fill="#262626">10</text>
<text x="119.51" y="1271.3" font-size="51.6" fill="#262626">11</text>
<text x="119.51" y="1110.15" font-size="51.6" fill="#262626">12</text>
<text x="119.51" y="949" font-size="51.6" fill="#262626">13</text>
<text x="119.51" y="787.85" font-size="51.6" fill="#262626">14</text>
<text x="119.51" y="626.7" font-size="51.6" fill="#262626">15</text>
<text x="119.51" y="465.55" font-size="51.6" fill="#262626">16</text>
<text x="119.51" y="304.4" font-size="51.6" fill="#262626">17</text>
<text x="119.51" y="143.25" font-size="51.6" fill="#262626">18</text>
<text x="839.96" y="1560.4" font-size="56.6" fill="#262626">Y</text>
<text x="877.01" y="1587.6" font-size="45.2" fill="#262626">1</text>
<text x="919.47" y="1560.4" font-size="56.6" fill="#262626">[%]</text>
<text transform="translate(63 848.3) rotate(-90)" font-size="56.6" fill="#262626">Z</text>
<text transform="translate(89.2 816.94) rotate(-90)" font-size="45.2" fill="#262626">1</text>
<text transform="translate(63 772.63) rotate(-90)" font-size="56.6" fill="#262626">[%]</text>
<text transform="translate(345.48 78.1) scale(0.9820 1)" font-size="56.6" font-weight="bold" fill="#000">Torque Amplitude [Nm], D</text>
<text x="1031.54" y="104.8" font-size="45.2" font-weight="bold" fill="#000">1</text>
<text transform="translate(1061.49 78.1) scale(0.9849 1)" font-size="56.6" font-weight="bold" fill="#000">=2mm, Order= 6</text>
</g>
</svg></body></html>
